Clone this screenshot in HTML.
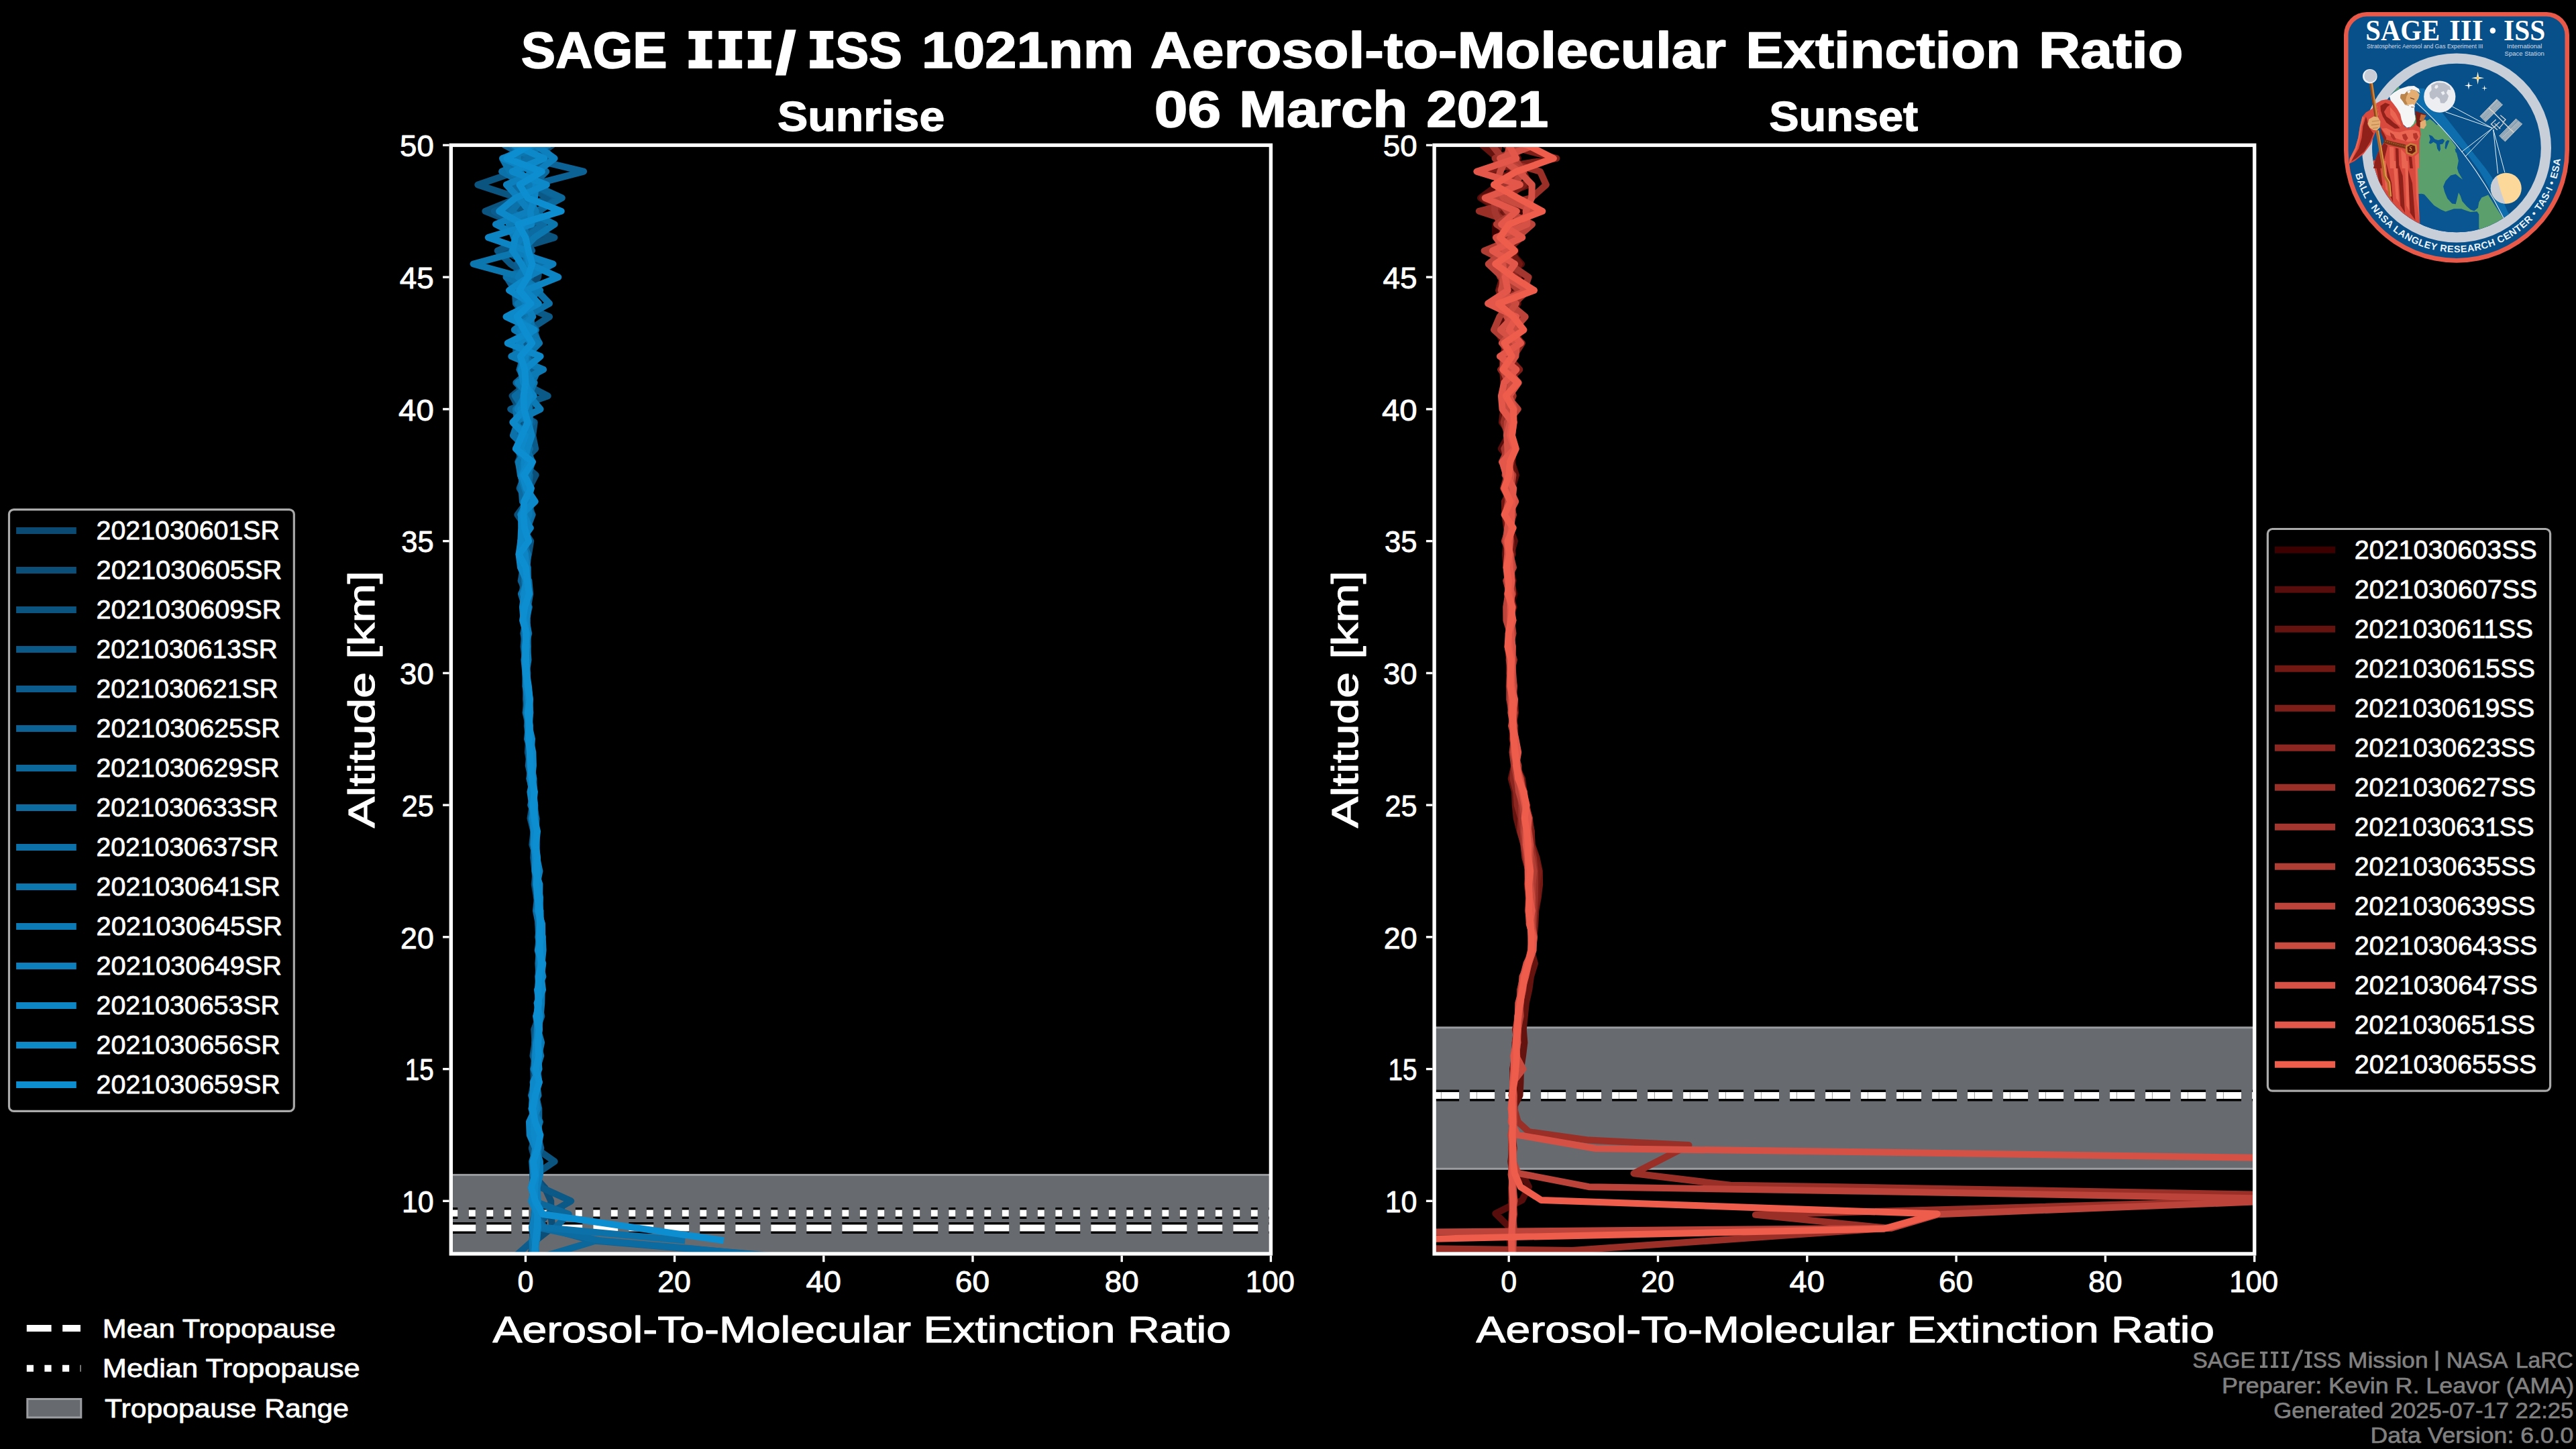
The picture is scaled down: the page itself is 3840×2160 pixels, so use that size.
<!DOCTYPE html>
<html><head><meta charset="utf-8"><title>SAGE III/ISS 1021nm Aerosol-to-Molecular Extinction Ratio</title>
<style>html,body{margin:0;padding:0;background:#000;overflow:hidden}svg{display:block}text{white-space:pre}</style></head><body>
<svg width="3840" height="2160" viewBox="0 0 3840 2160">
<rect width="3840" height="2160" fill="#000"/>
<defs>
<clipPath id="cl"><rect x="672.3" y="216.4" width="1222.1000000000001" height="1652.6"/></clipPath>
<clipPath id="cr"><rect x="2138.1" y="216.4" width="1222.6" height="1652.6"/></clipPath>
</defs>
<text x="776.67" y="101.1" font-family="Liberation Sans" font-size="75.84" font-weight="bold" fill="#fff" textLength="218.04" lengthAdjust="spacingAndGlyphs" stroke="#fff" stroke-width="1.6" stroke-linejoin="round">SAGE</text>
<text x="1245.13" y="101.1" font-family="Liberation Sans" font-size="75.84" font-weight="bold" fill="#fff" textLength="99.82" lengthAdjust="spacingAndGlyphs" stroke="#fff" stroke-width="1.6" stroke-linejoin="round">SS</text>
<text x="1373.82" y="101.1" font-family="Liberation Sans" font-size="75.84" font-weight="bold" fill="#fff" textLength="316.44" lengthAdjust="spacingAndGlyphs" stroke="#fff" stroke-width="1.6" stroke-linejoin="round">1021nm</text>
<text x="1714.87" y="101.1" font-family="Liberation Sans" font-size="75.84" font-weight="bold" fill="#fff" textLength="858.01" lengthAdjust="spacingAndGlyphs" stroke="#fff" stroke-width="1.6" stroke-linejoin="round">Aerosol-to-Molecular</text>
<text x="2602.31" y="101.1" font-family="Liberation Sans" font-size="75.84" font-weight="bold" fill="#fff" textLength="409.41" lengthAdjust="spacingAndGlyphs" stroke="#fff" stroke-width="1.6" stroke-linejoin="round">Extinction</text>
<text x="3039.02" y="101.1" font-family="Liberation Sans" font-size="75.84" font-weight="bold" fill="#fff" textLength="215.42" lengthAdjust="spacingAndGlyphs" stroke="#fff" stroke-width="1.6" stroke-linejoin="round">Ratio</text>
<path d="M1026.5 46.0h35v12.3h-10v31.3h10v12.3h-35v-12.3h10v-31.3h-10z" fill="#fff"/>
<path d="M1071.2 46.0h35v12.3h-10v31.3h10v12.3h-35v-12.3h10v-31.3h-10z" fill="#fff"/>
<path d="M1114.8 46.0h35v12.3h-10v31.3h10v12.3h-35v-12.3h10v-31.3h-10z" fill="#fff"/>
<path d="M1207.2 46.0h35v12.3h-10v31.3h10v12.3h-35v-12.3h10v-31.3h-10z" fill="#fff"/>
<path d="M1155.8 112.4h15.6l15.3 -68.2h-15.6z" fill="#fff"/>
<text x="1720.66" y="188.8" font-family="Liberation Sans" font-size="75.84" font-weight="bold" fill="#fff" textLength="99.50" lengthAdjust="spacingAndGlyphs" stroke="#fff" stroke-width="1.6" stroke-linejoin="round">06</text>
<text x="1847.08" y="188.8" font-family="Liberation Sans" font-size="75.84" font-weight="bold" fill="#fff" textLength="251.18" lengthAdjust="spacingAndGlyphs" stroke="#fff" stroke-width="1.6" stroke-linejoin="round">March</text>
<text x="2126.34" y="188.8" font-family="Liberation Sans" font-size="75.84" font-weight="bold" fill="#fff" textLength="181.82" lengthAdjust="spacingAndGlyphs" stroke="#fff" stroke-width="1.6" stroke-linejoin="round">2021</text>
<text x="1158.97" y="195.0" font-family="Liberation Sans" font-size="63.13" font-weight="bold" fill="#fff" textLength="249.24" lengthAdjust="spacingAndGlyphs" stroke="#fff" stroke-width="1.3" stroke-linejoin="round">Sunrise</text>
<text x="2637.20" y="195.0" font-family="Liberation Sans" font-size="63.13" font-weight="bold" fill="#fff" textLength="221.98" lengthAdjust="spacingAndGlyphs" stroke="#fff" stroke-width="1.3" stroke-linejoin="round">Sunset</text>
<rect x="672.3" y="1751.4" width="1222.1" height="157.0" fill="#676a6f" clip-path="url(#cl)"/>
<g clip-path="url(#cl)" stroke="#9b9da0" stroke-width="3" fill="none">
<rect x="667.3" y="1751.4" width="1232.1" height="157.0"/>
</g>
<g clip-path="url(#cl)" fill="none" stroke-dasharray="10 16.5">
<path d="M672.3 1808.6H1894.4" stroke="#000" stroke-width="17"/>
<path d="M672.3 1808.6H1894.4" stroke="#fff" stroke-width="10"/>
</g>
<g clip-path="url(#cl)" fill="none" stroke-dasharray="37 16">
<path d="M672.3 1830.6H1894.4" stroke="#000" stroke-width="17"/>
<path d="M672.3 1830.6H1894.4" stroke="#fff" stroke-width="10"/>
</g>
<g clip-path="url(#cl)" fill="none" stroke-linejoin="round" stroke-linecap="butt">
<path d="M804.3 177.1L775.1 196.7L822.9 216.4L795.2 236.1L807.5 255.7L799.3 275.4L796.0 295.1L775.0 314.8L801.4 334.4L793.7 354.1L784.6 373.8L805.1 393.5L802.1 413.1L789.9 432.8L800.0 452.5L778.4 472.2L780.5 491.8L781.7 511.5L780.9 531.2L781.9 550.9L785.5 570.5L794.7 590.2L789.6 609.9L790.1 629.5L772.8 649.2L780.7 668.9L772.1 688.6L779.2 708.2L790.7 727.9L788.5 747.6L784.4 767.3L785.7 786.9L781.9 806.6L777.8 826.3L780.1 846.0L780.9 865.6L778.5 885.3L783.0 905.0L779.2 924.7L785.1 944.3L783.5 964.0L785.2 983.7L785.3 1003.4L786.5 1023.0L786.4 1042.7L787.0 1062.4L785.8 1082.0L788.3 1101.7L786.7 1121.4L791.2 1141.1L793.8 1160.7L794.0 1180.4L795.2 1200.1L796.8 1219.8L798.1 1239.4L796.1 1259.1L798.8 1278.8L798.8 1298.5L796.7 1318.1L800.0 1337.8L803.2 1357.5L801.9 1377.2L803.3 1396.8L806.1 1416.5L803.8 1436.2L802.2 1455.8L804.0 1475.5L803.0 1495.2L801.1 1514.9L799.8 1534.5L799.8 1554.2L797.1 1573.9L795.1 1593.6L795.8 1613.2L792.1 1632.9L798.7 1652.6L799.5 1672.3L794.5 1691.9L800.6 1711.6L796.2 1731.3L794.2 1751.0L794.6 1770.6L797.4 1790.3L799.2 1810.0L796.3 1829.7L793.4 1849.3L799.1 1869.0" stroke="#0b4a72" stroke-width="10.0"/>
<path d="M769.0 177.1L755.1 196.7L791.6 216.4L813.8 236.1L754.9 255.7L794.7 275.4L769.4 295.1L765.6 314.8L792.9 334.4L820.2 354.1L751.6 373.8L789.6 393.5L791.3 413.1L784.5 432.8L792.4 452.5L768.9 472.2L784.6 491.8L783.3 511.5L784.2 531.2L775.7 550.9L787.6 570.5L763.6 590.2L774.5 609.9L779.6 629.5L773.9 649.2L774.3 668.9L775.3 688.6L798.6 708.2L788.4 727.9L785.9 747.6L771.4 767.3L785.0 786.9L778.6 806.6L781.8 826.3L784.8 846.0L782.9 865.6L783.0 885.3L785.6 905.0L784.7 924.7L785.1 944.3L785.6 964.0L784.4 983.7L784.5 1003.4L785.0 1023.0L786.1 1042.7L786.3 1062.4L787.7 1082.0L790.0 1101.7L787.4 1121.4L791.4 1141.1L793.0 1160.7L791.8 1180.4L796.0 1200.1L798.3 1219.8L799.2 1239.4L799.6 1259.1L798.0 1278.8L798.3 1298.5L800.4 1318.1L802.9 1337.8L803.7 1357.5L803.3 1377.2L808.6 1396.8L804.5 1416.5L804.1 1436.2L805.8 1455.8L801.7 1475.5L803.9 1495.2L803.9 1514.9L803.9 1534.5L800.8 1554.2L804.9 1573.9L798.2 1593.6L797.4 1613.2L794.9 1632.9L795.2 1652.6L798.6 1672.3L797.8 1691.9L792.8 1711.6L798.1 1731.3L794.4 1751.0L812.3 1770.6L821.2 1790.3L821.2 1810.0L823.4 1829.7L798.4 1849.3L791.2 1869.0L796.0 1888.7" stroke="#0b4f79" stroke-width="10.0"/>
<path d="M765.9 177.1L779.1 196.7L787.0 216.4L800.7 236.1L770.1 255.7L712.3 275.4L772.3 295.1L723.4 314.8L772.3 334.4L826.5 354.1L761.6 373.8L799.1 393.5L779.3 413.1L785.2 432.8L792.1 452.5L785.8 472.2L789.4 491.8L769.1 511.5L769.4 531.2L789.0 550.9L774.7 570.5L774.2 590.2L770.3 609.9L794.4 629.5L789.7 649.2L795.5 668.9L775.9 688.6L783.4 708.2L775.4 727.9L788.4 747.6L792.9 767.3L778.5 786.9L791.2 806.6L788.0 826.3L782.9 846.0L776.6 865.6L788.3 885.3L783.7 905.0L782.7 924.7L785.0 944.3L785.0 964.0L786.5 983.7L783.4 1003.4L786.2 1023.0L787.7 1042.7L788.8 1062.4L787.3 1082.0L787.2 1101.7L791.3 1121.4L790.9 1141.1L792.2 1160.7L796.2 1180.4L793.8 1200.1L790.5 1219.8L795.5 1239.4L793.3 1259.1L800.0 1278.8L800.0 1298.5L799.2 1318.1L801.5 1337.8L804.4 1357.5L804.0 1377.2L807.6 1396.8L804.3 1416.5L806.1 1436.2L806.6 1455.8L806.5 1475.5L800.6 1495.2L803.8 1514.9L796.2 1534.5L797.5 1554.2L794.4 1573.9L802.0 1593.6L794.5 1613.2L797.6 1632.9L796.2 1652.6L796.7 1672.3L794.8 1691.9L798.5 1711.6L826.7 1731.3L797.6 1751.0L799.1 1770.6L800.4 1790.3L796.4 1810.0L793.0 1829.7L795.0 1849.3" stroke="#0b547f" stroke-width="10.0"/>
<path d="M807.2 177.1L784.8 196.7L772.1 216.4L766.8 236.1L776.5 255.7L776.4 275.4L820.6 295.1L755.6 314.8L781.8 334.4L785.9 354.1L741.7 373.8L761.1 393.5L790.9 413.1L766.8 432.8L772.3 452.5L819.0 472.2L789.0 491.8L773.0 511.5L781.2 531.2L796.7 550.9L778.3 570.5L816.7 590.2L761.2 609.9L796.7 629.5L794.2 649.2L798.2 668.9L778.1 688.6L785.9 708.2L786.1 727.9L781.0 747.6L784.2 767.3L783.5 786.9L785.3 806.6L779.7 826.3L777.4 846.0L785.4 865.6L782.7 885.3L783.1 905.0L780.9 924.7L786.7 944.3L787.0 964.0L785.4 983.7L784.4 1003.4L786.1 1023.0L785.4 1042.7L783.5 1062.4L788.1 1082.0L789.1 1101.7L788.6 1121.4L788.6 1141.1L793.1 1160.7L792.5 1180.4L795.8 1200.1L794.0 1219.8L799.6 1239.4L800.1 1259.1L798.7 1278.8L799.1 1298.5L800.7 1318.1L800.3 1337.8L805.3 1357.5L803.2 1377.2L805.0 1396.8L808.2 1416.5L803.6 1436.2L804.5 1455.8L802.7 1475.5L802.2 1495.2L802.5 1514.9L801.5 1534.5L798.4 1554.2L801.8 1573.9L801.3 1593.6L803.4 1613.2L794.3 1632.9L796.9 1652.6L799.4 1672.3L801.9 1691.9L795.3 1711.6L797.3 1731.3L796.2 1751.0L807.8 1770.6L851.2 1790.3L816.7 1810.0L797.5 1829.7L800.7 1849.3" stroke="#0b5986" stroke-width="10.0"/>
<path d="M770.1 177.1L821.6 196.7L805.1 216.4L823.9 236.1L801.0 255.7L763.3 275.4L788.7 295.1L736.8 314.8L767.7 334.4L782.0 354.1L793.1 373.8L770.8 393.5L781.5 413.1L789.8 432.8L788.1 452.5L790.4 472.2L785.4 491.8L780.4 511.5L790.7 531.2L783.9 550.9L775.9 570.5L777.8 590.2L783.4 609.9L782.5 629.5L784.7 649.2L783.4 668.9L784.8 688.6L782.4 708.2L774.6 727.9L786.1 747.6L789.7 767.3L785.8 786.9L782.5 806.6L785.5 826.3L779.7 846.0L776.9 865.6L784.0 885.3L781.5 905.0L785.7 924.7L782.1 944.3L780.6 964.0L783.0 983.7L786.3 1003.4L784.6 1023.0L784.1 1042.7L785.7 1062.4L788.7 1082.0L789.6 1101.7L790.0 1121.4L793.8 1141.1L793.6 1160.7L793.4 1180.4L796.0 1200.1L799.3 1219.8L798.7 1239.4L799.8 1259.1L796.2 1278.8L799.2 1298.5L802.2 1318.1L801.2 1337.8L805.1 1357.5L805.3 1377.2L807.0 1396.8L804.2 1416.5L808.9 1436.2L806.3 1455.8L802.5 1475.5L802.7 1495.2L807.3 1514.9L800.4 1534.5L802.9 1554.2L802.6 1573.9L799.4 1593.6L794.9 1613.2L798.6 1632.9L798.6 1652.6L801.9 1672.3L800.6 1691.9L797.9 1711.6L800.9 1731.3L799.6 1751.0L798.3 1770.6L797.6 1790.3L796.5 1810.0L799.2 1829.7L794.5 1849.3L765.6 1874.9" stroke="#0c5d8d" stroke-width="10.0"/>
<path d="M768.0 177.1L762.6 196.7L752.4 216.4L789.0 236.1L870.1 255.7L794.5 275.4L831.8 295.1L803.3 314.8L809.7 334.4L779.5 354.1L778.8 373.8L801.9 393.5L755.2 413.1L767.7 432.8L768.9 452.5L785.7 472.2L778.6 491.8L772.4 511.5L781.8 531.2L791.8 550.9L769.3 570.5L788.9 590.2L773.0 609.9L793.7 629.5L775.4 649.2L781.3 668.9L778.0 688.6L787.3 708.2L784.1 727.9L781.4 747.6L785.6 767.3L787.0 786.9L777.9 806.6L779.1 826.3L779.5 846.0L782.0 865.6L780.5 885.3L788.8 905.0L784.1 924.7L784.2 944.3L782.3 964.0L782.4 983.7L784.2 1003.4L787.0 1023.0L787.0 1042.7L787.0 1062.4L788.6 1082.0L788.6 1101.7L792.8 1121.4L791.9 1141.1L795.5 1160.7L796.0 1180.4L794.4 1200.1L793.9 1219.8L798.4 1239.4L796.2 1259.1L795.3 1278.8L797.4 1298.5L798.8 1318.1L803.0 1337.8L803.6 1357.5L804.1 1377.2L808.6 1396.8L803.9 1416.5L806.9 1436.2L804.5 1455.8L803.2 1475.5L802.2 1495.2L805.7 1514.9L800.0 1534.5L797.1 1554.2L799.3 1573.9L802.7 1593.6L795.3 1613.2L798.9 1632.9L803.3 1652.6L803.3 1672.3L801.1 1691.9L806.3 1711.6L798.7 1731.3L797.6 1751.0L791.9 1770.6L799.1 1790.3L800.7 1810.0L811.2 1829.7L883.4 1849.3L1161.1 1872.9" stroke="#0c6294" stroke-width="10.0"/>
<path d="M743.5 177.1L815.9 196.7L790.7 216.4L778.9 236.1L814.2 255.7L794.5 275.4L837.8 295.1L800.1 314.8L759.9 334.4L766.3 354.1L781.5 373.8L791.6 393.5L771.3 413.1L795.6 432.8L792.2 452.5L775.7 472.2L795.9 491.8L802.7 511.5L779.5 531.2L774.9 550.9L782.1 570.5L774.2 590.2L780.2 609.9L786.5 629.5L779.7 649.2L789.8 668.9L779.2 688.6L789.8 708.2L787.7 727.9L781.8 747.6L793.2 767.3L784.1 786.9L783.4 806.6L785.2 826.3L777.3 846.0L788.4 865.6L790.2 885.3L786.8 905.0L784.2 924.7L780.4 944.3L784.2 964.0L784.8 983.7L783.7 1003.4L783.8 1023.0L788.4 1042.7L790.4 1062.4L786.8 1082.0L789.6 1101.7L790.4 1121.4L787.8 1141.1L792.0 1160.7L793.9 1180.4L795.1 1200.1L793.7 1219.8L798.8 1239.4L795.9 1259.1L799.0 1278.8L800.7 1298.5L802.9 1318.1L801.2 1337.8L802.4 1357.5L803.6 1377.2L807.1 1396.8L803.2 1416.5L806.7 1436.2L802.3 1455.8L804.4 1475.5L804.9 1495.2L801.8 1514.9L803.4 1534.5L800.6 1554.2L796.3 1573.9L797.9 1593.6L800.2 1613.2L793.0 1632.9L798.0 1652.6L801.8 1672.3L801.7 1691.9L802.1 1711.6L800.1 1731.3L799.6 1751.0L794.0 1770.6L795.0 1790.3L847.8 1810.0L827.8 1829.7L888.9 1849.3L811.2 1872.9" stroke="#0c679a" stroke-width="10.0"/>
<path d="M788.5 177.1L756.6 196.7L795.2 216.4L783.2 236.1L796.7 255.7L764.4 275.4L776.2 295.1L756.7 314.8L810.6 334.4L784.3 354.1L786.9 373.8L794.9 393.5L772.3 413.1L783.2 432.8L774.9 452.5L781.1 472.2L799.0 491.8L771.2 511.5L783.5 531.2L774.5 550.9L794.0 570.5L767.8 590.2L780.5 609.9L785.6 629.5L780.4 649.2L789.9 668.9L778.6 688.6L778.5 708.2L777.5 727.9L778.9 747.6L793.6 767.3L786.2 786.9L782.9 806.6L776.6 826.3L786.8 846.0L786.9 865.6L776.9 885.3L782.9 905.0L784.1 924.7L788.2 944.3L782.7 964.0L782.9 983.7L784.3 1003.4L783.4 1023.0L787.1 1042.7L787.4 1062.4L789.1 1082.0L790.0 1101.7L789.9 1121.4L792.7 1141.1L789.7 1160.7L796.4 1180.4L791.2 1200.1L799.3 1219.8L798.9 1239.4L799.1 1259.1L798.9 1278.8L799.4 1298.5L800.8 1318.1L801.1 1337.8L798.9 1357.5L802.8 1377.2L803.9 1396.8L801.8 1416.5L805.9 1436.2L805.5 1455.8L804.5 1475.5L804.3 1495.2L801.7 1514.9L801.3 1534.5L805.6 1554.2L803.7 1573.9L799.8 1593.6L801.5 1613.2L798.2 1632.9L794.6 1652.6L804.9 1672.3L798.1 1691.9L802.9 1711.6L797.5 1731.3L797.9 1751.0L794.0 1770.6L800.3 1790.3L799.6 1810.0L801.2 1829.7L894.5 1849.3L1027.8 1861.1L1227.8 1880.8" stroke="#0c6ca1" stroke-width="10.0"/>
<path d="M796.9 177.1L790.6 196.7L763.1 216.4L792.7 236.1L748.1 255.7L784.4 275.4L778.8 295.1L763.1 314.8L781.2 334.4L784.6 354.1L773.7 373.8L815.4 393.5L754.5 413.1L800.1 432.8L819.0 452.5L783.4 472.2L787.0 491.8L793.2 511.5L781.6 531.2L802.5 550.9L793.2 570.5L791.3 590.2L768.8 609.9L771.6 629.5L764.9 649.2L785.1 668.9L793.5 688.6L786.9 708.2L785.5 727.9L782.4 747.6L791.4 767.3L784.5 786.9L776.6 806.6L787.1 826.3L785.4 846.0L787.3 865.6L783.2 885.3L781.7 905.0L784.8 924.7L784.7 944.3L784.8 964.0L785.2 983.7L783.7 1003.4L784.3 1023.0L785.3 1042.7L787.7 1062.4L787.9 1082.0L786.0 1101.7L792.2 1121.4L791.2 1141.1L793.3 1160.7L794.5 1180.4L797.2 1200.1L797.3 1219.8L799.2 1239.4L796.3 1259.1L799.2 1278.8L798.0 1298.5L801.4 1318.1L800.6 1337.8L803.8 1357.5L803.8 1377.2L805.4 1396.8L803.9 1416.5L802.4 1436.2L803.5 1455.8L801.9 1475.5L806.5 1495.2L799.0 1514.9L802.4 1534.5L801.2 1554.2L804.3 1573.9L797.6 1593.6L800.9 1613.2L792.3 1632.9L799.3 1652.6L800.2 1672.3L799.0 1691.9L803.1 1711.6L800.3 1731.3L796.3 1751.0L800.4 1770.6L798.9 1790.3L797.5 1810.0L809.0 1829.7L1021.2 1849.3" stroke="#0c71a8" stroke-width="10.0"/>
<path d="M747.2 177.1L771.8 196.7L817.4 216.4L748.9 236.1L759.8 255.7L790.6 275.4L780.2 295.1L787.7 314.8L826.7 334.4L796.7 354.1L777.8 373.8L705.6 393.5L777.8 413.1L805.2 432.8L771.6 452.5L792.0 472.2L791.6 491.8L804.0 511.5L784.6 531.2L778.8 550.9L796.6 570.5L787.2 590.2L788.7 609.9L789.6 629.5L776.2 649.2L785.7 668.9L772.9 688.6L775.9 708.2L782.9 727.9L787.0 747.6L788.6 767.3L779.7 786.9L778.8 806.6L780.9 826.3L783.0 846.0L782.2 865.6L784.5 885.3L787.3 905.0L785.4 924.7L784.7 944.3L786.0 964.0L787.5 983.7L784.3 1003.4L786.0 1023.0L787.3 1042.7L784.5 1062.4L789.3 1082.0L789.6 1101.7L792.7 1121.4L792.1 1141.1L789.4 1160.7L794.4 1180.4L793.5 1200.1L796.0 1219.8L799.0 1239.4L798.2 1259.1L800.9 1278.8L799.0 1298.5L801.9 1318.1L802.6 1337.8L805.3 1357.5L805.8 1377.2L805.2 1396.8L806.8 1416.5L805.4 1436.2L804.3 1455.8L806.5 1475.5L802.5 1495.2L801.6 1514.9L801.2 1534.5L801.4 1554.2L806.2 1573.9L800.2 1593.6L799.7 1613.2L802.4 1632.9L792.3 1652.6L803.9 1672.3L798.3 1691.9L799.7 1711.6L793.2 1731.3L794.7 1751.0L798.7 1770.6L799.3 1790.3L796.0 1810.0L797.6 1829.7L793.4 1849.3L794.3 1869.0" stroke="#0c76ae" stroke-width="10.0"/>
<path d="M806.9 177.1L801.6 196.7L771.0 216.4L771.8 236.1L774.3 255.7L791.9 275.4L787.8 295.1L798.7 314.8L758.9 334.4L766.4 354.1L784.1 373.8L785.8 393.5L772.5 413.1L801.9 432.8L787.7 452.5L792.1 472.2L766.7 491.8L800.1 511.5L762.3 531.2L810.1 550.9L772.3 570.5L788.8 590.2L805.6 609.9L765.6 629.5L787.6 649.2L786.1 668.9L780.6 688.6L776.1 708.2L782.2 727.9L788.9 747.6L788.4 767.3L782.0 786.9L779.1 806.6L781.8 826.3L776.6 846.0L787.3 865.6L786.8 885.3L783.9 905.0L785.2 924.7L787.1 944.3L784.3 964.0L784.5 983.7L785.5 1003.4L785.1 1023.0L787.4 1042.7L786.3 1062.4L790.0 1082.0L788.2 1101.7L790.6 1121.4L792.0 1141.1L790.2 1160.7L793.2 1180.4L796.3 1200.1L795.9 1219.8L795.9 1239.4L796.9 1259.1L798.1 1278.8L800.3 1298.5L801.0 1318.1L805.1 1337.8L804.6 1357.5L804.5 1377.2L802.4 1396.8L805.7 1416.5L806.3 1436.2L804.0 1455.8L807.7 1475.5L807.3 1495.2L805.5 1514.9L801.6 1534.5L807.1 1554.2L802.8 1573.9L795.5 1593.6L803.8 1613.2L793.9 1632.9L793.0 1652.6L801.9 1672.3L804.2 1691.9L799.3 1711.6L802.3 1731.3L802.1 1751.0L793.4 1770.6L799.2 1790.3L800.1 1810.0L794.9 1829.7L799.8 1849.3L796.4 1869.0L798.3 1888.7" stroke="#0c7bb5" stroke-width="10.0"/>
<path d="M824.1 177.1L774.8 196.7L799.3 216.4L826.6 236.1L801.2 255.7L754.9 275.4L773.2 295.1L789.0 314.8L739.0 334.4L777.8 354.1L763.4 373.8L824.5 393.5L785.6 413.1L773.8 432.8L783.5 452.5L794.2 472.2L775.9 491.8L791.6 511.5L783.7 531.2L784.1 550.9L793.5 570.5L782.5 590.2L771.7 609.9L787.3 629.5L790.1 649.2L769.2 668.9L786.4 688.6L776.4 708.2L789.4 727.9L785.9 747.6L776.2 767.3L790.8 786.9L776.1 806.6L783.3 826.3L785.7 846.0L784.2 865.6L786.3 885.3L782.9 905.0L783.9 924.7L783.4 944.3L784.3 964.0L781.5 983.7L783.4 1003.4L784.2 1023.0L787.4 1042.7L787.9 1062.4L786.9 1082.0L787.9 1101.7L791.4 1121.4L792.5 1141.1L794.4 1160.7L793.2 1180.4L797.1 1200.1L792.9 1219.8L796.2 1239.4L795.3 1259.1L800.2 1278.8L804.4 1298.5L800.4 1318.1L801.8 1337.8L802.6 1357.5L807.5 1377.2L808.0 1396.8L804.3 1416.5L804.9 1436.2L809.4 1455.8L800.9 1475.5L803.8 1495.2L801.5 1514.9L800.9 1534.5L800.3 1554.2L802.2 1573.9L797.0 1593.6L802.1 1613.2L798.3 1632.9L801.5 1652.6L792.7 1672.3L803.4 1691.9L798.2 1711.6L804.9 1731.3L805.0 1751.0L800.5 1770.6L801.8 1790.3L797.5 1810.0L793.4 1829.7L797.2 1849.3L799.4 1869.0L796.1 1888.7" stroke="#0d7fbc" stroke-width="10.0"/>
<path d="M780.8 177.1L716.7 196.7L794.5 216.4L750.1 236.1L795.0 255.7L798.8 275.4L796.9 295.1L790.6 314.8L792.3 334.4L727.8 354.1L785.6 373.8L789.0 393.5L832.3 413.1L783.4 432.8L802.9 452.5L765.1 472.2L795.6 491.8L774.1 511.5L783.3 531.2L776.9 550.9L780.2 570.5L795.6 590.2L776.0 609.9L787.5 629.5L792.7 649.2L786.2 668.9L781.5 688.6L781.9 708.2L791.9 727.9L786.2 747.6L781.0 767.3L789.7 786.9L778.4 806.6L782.5 826.3L782.9 846.0L785.6 865.6L779.9 885.3L787.7 905.0L784.3 924.7L784.5 944.3L785.1 964.0L782.3 983.7L784.1 1003.4L786.2 1023.0L788.3 1042.7L789.7 1062.4L788.5 1082.0L793.0 1101.7L791.4 1121.4L791.8 1141.1L795.1 1160.7L790.4 1180.4L793.3 1200.1L795.1 1219.8L795.6 1239.4L797.1 1259.1L798.3 1278.8L800.7 1298.5L802.5 1318.1L802.9 1337.8L805.3 1357.5L805.4 1377.2L808.7 1396.8L809.6 1416.5L807.5 1436.2L806.5 1455.8L803.2 1475.5L802.2 1495.2L800.4 1514.9L803.9 1534.5L799.3 1554.2L798.0 1573.9L797.1 1593.6L801.9 1613.2L797.7 1632.9L798.2 1652.6L788.9 1672.3L789.7 1691.9L798.2 1711.6L795.0 1731.3L795.7 1751.0L797.9 1770.6L792.0 1790.3L801.0 1810.0L802.0 1829.7L800.1 1849.3" stroke="#0d84c3" stroke-width="10.0"/>
<path d="M784.1 177.1L850.1 196.7L766.7 216.4L811.2 236.1L763.6 255.7L814.8 275.4L768.4 295.1L744.1 314.8L779.2 334.4L768.1 354.1L764.2 373.8L777.2 393.5L787.9 413.1L759.0 432.8L792.3 452.5L754.5 472.2L796.7 491.8L756.7 511.5L805.6 531.2L782.3 550.9L783.0 570.5L790.0 590.2L782.6 609.9L764.3 629.5L783.2 649.2L776.1 668.9L788.6 688.6L778.8 708.2L784.4 727.9L797.6 747.6L777.1 767.3L777.2 786.9L776.3 806.6L773.5 826.3L776.0 846.0L785.0 865.6L781.8 885.3L778.9 905.0L780.8 924.7L785.4 944.3L783.0 964.0L783.9 983.7L784.9 1003.4L787.9 1023.0L789.8 1042.7L789.6 1062.4L789.2 1082.0L790.3 1101.7L794.3 1121.4L794.9 1141.1L792.7 1160.7L795.6 1180.4L796.5 1200.1L796.9 1219.8L796.7 1239.4L795.9 1259.1L798.6 1278.8L797.5 1298.5L804.4 1318.1L804.1 1337.8L801.7 1357.5L808.1 1377.2L808.2 1396.8L801.9 1416.5L809.3 1436.2L806.6 1455.8L809.0 1475.5L800.7 1495.2L804.4 1514.9L803.5 1534.5L802.3 1554.2L801.6 1573.9L803.5 1593.6L795.1 1613.2L794.7 1632.9L793.0 1652.6L796.0 1672.3L796.3 1691.9L800.4 1711.6L800.1 1731.3L799.1 1751.0L796.6 1770.6L797.2 1790.3L801.4 1810.0L800.6 1829.7L798.4 1849.3L797.0 1869.0L802.1 1888.7" stroke="#0d89c9" stroke-width="10.0"/>
<path d="M815.8 177.1L827.8 196.7L789.0 216.4L755.6 236.1L807.8 255.7L774.5 275.4L786.7 295.1L836.7 314.8L772.3 334.4L783.4 354.1L787.8 373.8L793.4 393.5L786.7 413.1L774.5 432.8L791.0 452.5L770.8 472.2L781.1 491.8L793.1 511.5L775.8 531.2L782.3 550.9L783.4 570.5L780.4 590.2L781.1 609.9L786.6 629.5L778.1 649.2L768.9 668.9L793.9 688.6L781.3 708.2L791.5 727.9L781.3 747.6L780.3 767.3L781.9 786.9L788.1 806.6L773.7 826.3L783.9 846.0L785.9 865.6L788.8 885.3L782.2 905.0L779.2 924.7L784.5 944.3L783.6 964.0L784.2 983.7L784.3 1003.4L786.9 1023.0L789.9 1042.7L786.8 1062.4L789.1 1082.0L788.2 1101.7L789.9 1121.4L790.7 1141.1L792.8 1160.7L796.9 1180.4L794.7 1200.1L796.6 1219.8L801.0 1239.4L798.6 1259.1L800.9 1278.8L800.5 1298.5L799.4 1318.1L801.4 1337.8L803.9 1357.5L805.1 1377.2L804.4 1396.8L804.8 1416.5L807.0 1436.2L803.1 1455.8L802.4 1475.5L803.1 1495.2L799.6 1514.9L803.5 1534.5L801.9 1554.2L803.3 1573.9L798.7 1593.6L803.8 1613.2L797.9 1632.9L794.2 1652.6L797.7 1672.3L805.5 1691.9L801.6 1711.6L794.9 1731.3L797.6 1751.0L791.8 1770.6L798.0 1790.3L809.0 1810.0L1078.9 1849.3" stroke="#0d8ed0" stroke-width="10.0"/>
</g>
<rect x="2138.1" y="1531.8" width="1222.6" height="210.5" fill="#676a6f" clip-path="url(#cr)"/>
<g clip-path="url(#cr)" stroke="#9b9da0" stroke-width="3" fill="none">
<rect x="2133.1" y="1531.8" width="1232.6" height="210.5"/>
</g>
<g clip-path="url(#cr)" fill="none" stroke-dasharray="37 16">
<path d="M2138.1 1632.9H3360.7" stroke="#000" stroke-width="17"/>
<path d="M2138.1 1632.9H3360.7" stroke="#fff" stroke-width="10"/>
</g>
<path d="M2148.4 1627.9v10M2201.4 1627.9v10M2254.4 1627.9v10M2307.4 1627.9v10M2360.4 1627.9v10M2413.4 1627.9v10M2466.4 1627.9v10M2519.4 1627.9v10M2572.4 1627.9v10M2625.4 1627.9v10M2678.4 1627.9v10M2731.4 1627.9v10M2784.4 1627.9v10M2837.4 1627.9v10M2890.4 1627.9v10M2943.4 1627.9v10M2996.4 1627.9v10M3049.4 1627.9v10M3102.4 1627.9v10M3155.4 1627.9v10M3208.4 1627.9v10M3261.4 1627.9v10M3314.4 1627.9v10M3367.4 1627.9v10" stroke="#9a9a9a" stroke-width="1" fill="none" clip-path="url(#cr)"/>
<g clip-path="url(#cr)" fill="none" stroke-linejoin="round" stroke-linecap="butt">
<path d="M2226.4 177.1L2256.2 196.7L2267.6 216.4L2239.9 236.1L2225.1 255.7L2248.1 275.4L2257.8 295.1L2268.8 314.8L2229.0 334.4L2229.1 354.1L2259.4 373.8L2255.8 393.5L2269.7 413.1L2261.8 432.8L2248.0 452.5L2246.2 472.2L2271.3 491.8L2246.7 511.5L2243.1 531.2L2240.9 550.9L2249.9 570.5L2250.2 590.2L2247.1 609.9L2248.9 629.5L2250.9 649.2L2253.1 668.9L2255.0 688.6L2250.5 708.2L2241.4 727.9L2252.7 747.6L2243.9 767.3L2249.1 786.9L2244.4 806.6L2250.1 826.3L2247.7 846.0L2251.3 865.6L2257.7 885.3L2251.0 905.0L2253.8 924.7L2248.4 944.3L2251.4 964.0L2253.7 983.7L2252.4 1003.4L2254.1 1023.0L2254.4 1042.7L2253.2 1062.4L2256.7 1082.0L2256.2 1101.7L2262.7 1121.4L2260.8 1141.1L2266.8 1160.7L2270.3 1180.4L2276.4 1200.1L2274.5 1219.8L2277.6 1239.4L2276.6 1259.1L2280.1 1278.8L2280.7 1298.5L2280.2 1318.1L2279.0 1337.8L2282.2 1357.5L2283.6 1377.2L2287.1 1396.8L2283.2 1416.5L2278.4 1436.2L2272.3 1455.8L2268.4 1475.5L2266.2 1495.2L2264.1 1514.9L2261.0 1534.5L2258.9 1554.2L2258.1 1573.9L2257.8 1593.6L2258.1 1613.2L2256.6 1632.9L2256.5 1652.6L2256.0 1672.3L2255.8 1691.9L2255.0 1711.6L2255.7 1731.3L2256.9 1751.0L2254.4 1770.6L2254.0 1790.3L2257.1 1810.0L2255.1 1829.7L2255.9 1849.3L2255.8 1869.0L2253.5 1888.7" stroke="#3c0000" stroke-width="10.0"/>
<path d="M2290.3 177.1L2282.1 196.7L2252.5 216.4L2263.0 236.1L2251.5 255.7L2233.3 275.4L2207.0 295.1L2238.1 314.8L2267.8 334.4L2260.3 354.1L2250.1 373.8L2268.1 393.5L2239.1 413.1L2259.4 432.8L2262.8 452.5L2246.0 472.2L2231.3 491.8L2241.2 511.5L2251.1 531.2L2253.1 550.9L2260.0 570.5L2242.7 590.2L2249.3 609.9L2253.1 629.5L2248.5 649.2L2237.8 668.9L2253.5 688.6L2260.0 708.2L2254.2 727.9L2245.7 747.6L2248.0 767.3L2250.6 786.9L2257.9 806.6L2252.3 826.3L2250.7 846.0L2255.7 865.6L2250.7 885.3L2256.6 905.0L2249.6 924.7L2250.5 944.3L2253.7 964.0L2255.3 983.7L2253.8 1003.4L2253.9 1023.0L2250.9 1042.7L2253.7 1062.4L2254.7 1082.0L2256.6 1101.7L2260.5 1121.4L2260.9 1141.1L2266.6 1160.7L2269.9 1180.4L2273.7 1200.1L2275.0 1219.8L2276.2 1239.4L2277.5 1259.1L2277.0 1278.8L2278.9 1298.5L2277.5 1318.1L2282.0 1337.8L2282.8 1357.5L2282.6 1377.2L2284.2 1396.8L2282.1 1416.5L2277.9 1436.2L2271.9 1455.8L2270.8 1475.5L2266.2 1495.2L2262.8 1514.9L2259.0 1534.5L2262.0 1554.2L2258.9 1573.9L2255.0 1593.6L2256.4 1613.2L2253.4 1632.9L2257.9 1652.6L2256.4 1672.3L2255.6 1691.9L2254.6 1711.6L2252.3 1731.3L2254.7 1751.0L2274.0 1759.3L2279.0 1769.2L2269.1 1789.1L2229.3 1808.9L2249.2 1828.8L2251.7 1858.6" stroke="#560d0b" stroke-width="10.0"/>
<path d="M2220.3 177.1L2260.3 196.7L2209.9 216.4L2232.7 236.1L2271.4 255.7L2278.9 275.4L2228.1 295.1L2222.0 314.8L2263.9 334.4L2262.5 354.1L2235.0 373.8L2239.6 393.5L2240.0 413.1L2234.0 432.8L2240.9 452.5L2263.1 472.2L2256.1 491.8L2267.5 511.5L2248.6 531.2L2248.2 550.9L2242.4 570.5L2248.4 590.2L2241.2 609.9L2238.9 629.5L2253.2 649.2L2257.0 668.9L2253.7 688.6L2255.9 708.2L2250.7 727.9L2246.5 747.6L2250.0 767.3L2248.3 786.9L2245.7 806.6L2244.1 826.3L2245.4 846.0L2250.6 865.6L2251.4 885.3L2249.8 905.0L2255.4 924.7L2252.2 944.3L2253.4 964.0L2254.9 983.7L2251.0 1003.4L2249.7 1023.0L2255.5 1042.7L2253.7 1062.4L2257.8 1082.0L2257.2 1101.7L2258.7 1121.4L2257.4 1141.1L2252.7 1160.7L2258.0 1180.4L2258.7 1200.1L2260.7 1219.8L2265.6 1239.4L2272.1 1259.1L2276.6 1278.8L2279.8 1298.5L2276.8 1318.1L2278.8 1337.8L2277.8 1357.5L2282.7 1377.2L2285.6 1396.8L2282.7 1416.5L2288.0 1436.2L2282.0 1455.8L2279.3 1475.5L2274.9 1495.2L2272.8 1514.9L2270.8 1534.5L2272.4 1554.2L2270.0 1573.9L2266.9 1593.6L2266.5 1613.2L2265.5 1632.9L2255.5 1652.6L2254.8 1672.3L2254.5 1691.9L2253.3 1711.6L2254.0 1731.3L2256.7 1751.0L2255.4 1770.6L2254.9 1790.3L2254.6 1810.0L2254.9 1829.7L2255.2 1849.3L2254.1 1869.0L2255.0 1888.7" stroke="#64130f" stroke-width="10.0"/>
<path d="M2253.7 177.1L2235.4 196.7L2234.7 216.4L2231.0 236.1L2229.9 255.7L2265.3 275.4L2209.9 295.1L2244.5 314.8L2239.1 334.4L2239.6 354.1L2250.7 373.8L2264.9 393.5L2250.3 413.1L2247.5 432.8L2241.8 452.5L2247.8 472.2L2258.4 491.8L2245.7 511.5L2240.3 531.2L2239.9 550.9L2241.6 570.5L2240.2 590.2L2256.0 609.9L2251.4 629.5L2248.0 649.2L2257.1 668.9L2246.2 688.6L2253.1 708.2L2253.2 727.9L2242.9 747.6L2243.3 767.3L2246.1 786.9L2253.1 806.6L2254.6 826.3L2246.2 846.0L2254.0 865.6L2249.7 885.3L2250.0 905.0L2249.9 924.7L2250.9 944.3L2247.8 964.0L2250.2 983.7L2250.2 1003.4L2254.3 1023.0L2258.0 1042.7L2258.9 1062.4L2255.2 1082.0L2254.6 1101.7L2258.9 1121.4L2260.1 1141.1L2269.0 1160.7L2271.6 1180.4L2275.0 1200.1L2279.8 1219.8L2282.6 1239.4L2283.8 1259.1L2290.6 1278.8L2294.8 1298.5L2295.1 1318.1L2292.8 1337.8L2289.3 1357.5L2288.3 1377.2L2286.6 1396.8L2283.6 1416.5L2280.0 1436.2L2272.2 1455.8L2268.6 1475.5L2263.9 1495.2L2263.6 1514.9L2262.8 1534.5L2258.6 1554.2L2260.0 1573.9L2256.5 1593.6L2256.7 1613.2L2255.2 1632.9L2255.5 1652.6L2256.5 1672.3L2254.5 1691.9L2256.7 1711.6L2253.9 1731.3L2253.7 1751.0L2255.6 1770.6L2253.6 1790.3L2254.4 1810.0L2255.8 1829.7L2256.2 1849.3L2252.8 1869.0L2255.4 1888.7" stroke="#711812" stroke-width="10.0"/>
<path d="M2284.4 177.1L2271.4 196.7L2244.8 216.4L2320.4 236.1L2201.5 255.7L2271.5 275.4L2244.5 295.1L2245.9 314.8L2246.8 334.4L2267.6 354.1L2245.9 373.8L2229.0 393.5L2263.3 413.1L2235.5 432.8L2243.8 452.5L2247.8 472.2L2245.8 491.8L2240.3 511.5L2247.3 531.2L2265.3 550.9L2245.0 570.5L2248.4 590.2L2256.1 609.9L2253.6 629.5L2253.6 649.2L2254.0 668.9L2239.6 688.6L2245.4 708.2L2250.2 727.9L2251.8 747.6L2255.0 767.3L2251.6 786.9L2248.9 806.6L2250.2 826.3L2249.6 846.0L2251.4 865.6L2253.0 885.3L2250.2 905.0L2249.2 924.7L2249.6 944.3L2254.6 964.0L2255.0 983.7L2254.5 1003.4L2255.0 1023.0L2255.7 1042.7L2255.0 1062.4L2256.9 1082.0L2255.8 1101.7L2259.2 1121.4L2260.4 1141.1L2267.0 1160.7L2269.7 1180.4L2275.7 1200.1L2278.5 1219.8L2282.9 1239.4L2283.3 1259.1L2287.7 1278.8L2293.6 1298.5L2290.8 1318.1L2291.0 1337.8L2287.5 1357.5L2287.0 1377.2L2284.5 1396.8L2285.5 1416.5L2277.3 1436.2L2270.6 1455.8L2270.7 1475.5L2266.8 1495.2L2266.6 1514.9L2262.3 1534.5L2259.8 1554.2L2258.8 1573.9L2259.0 1593.6L2256.2 1613.2L2255.9 1632.9L2255.9 1652.6L2254.0 1672.3L2255.1 1691.9L2254.2 1711.6L2253.3 1731.3L2255.8 1751.0L2255.6 1770.6L2254.9 1790.3L2253.8 1810.0L2252.5 1829.7L2255.4 1849.3L2254.7 1869.0L2252.9 1888.7" stroke="#7d1e19" stroke-width="10.0"/>
<path d="M2248.1 177.1L2221.1 196.7L2248.8 216.4L2251.9 236.1L2255.7 255.7L2253.2 275.4L2252.3 295.1L2229.0 314.8L2242.8 334.4L2241.3 354.1L2245.8 373.8L2253.0 393.5L2257.5 413.1L2270.1 432.8L2222.3 452.5L2253.7 472.2L2247.3 491.8L2268.8 511.5L2256.5 531.2L2237.1 550.9L2252.0 570.5L2245.8 590.2L2255.3 609.9L2243.1 629.5L2248.8 649.2L2248.7 668.9L2249.0 688.6L2246.7 708.2L2241.2 727.9L2251.6 747.6L2253.8 767.3L2249.5 786.9L2246.1 806.6L2250.8 826.3L2252.3 846.0L2250.1 865.6L2250.9 885.3L2255.3 905.0L2248.4 924.7L2250.3 944.3L2247.6 964.0L2250.8 983.7L2251.2 1003.4L2251.6 1023.0L2252.9 1042.7L2258.1 1062.4L2255.2 1082.0L2256.6 1101.7L2261.3 1121.4L2257.2 1141.1L2255.4 1160.7L2260.4 1180.4L2261.7 1200.1L2267.4 1219.8L2266.5 1239.4L2271.3 1259.1L2273.4 1278.8L2278.7 1298.5L2277.8 1318.1L2279.6 1337.8L2280.3 1357.5L2282.0 1377.2L2286.1 1396.8L2284.9 1416.5L2277.8 1436.2L2270.5 1455.8L2266.6 1475.5L2266.3 1495.2L2266.6 1514.9L2261.2 1534.5L2259.2 1554.2L2257.7 1573.9L2255.7 1593.6L2255.0 1613.2L2255.1 1632.9L2257.0 1652.6L2255.1 1672.3L2254.3 1691.9L2252.9 1711.6L2255.1 1731.3L2254.8 1751.0L2253.4 1770.6L2253.5 1790.3L2254.8 1810.0L2256.0 1829.7L2255.5 1849.3L2255.0 1869.0L2254.4 1888.7" stroke="#8c2620" stroke-width="10.0"/>
<path d="M2255.2 177.1L2249.0 196.7L2289.2 216.4L2228.5 236.1L2295.9 255.7L2304.8 275.4L2282.6 295.1L2204.8 314.8L2265.9 334.4L2251.5 354.1L2243.9 373.8L2230.1 393.5L2236.3 413.1L2277.4 432.8L2257.1 452.5L2256.0 472.2L2258.8 491.8L2254.3 511.5L2257.2 531.2L2247.3 550.9L2247.7 570.5L2255.7 590.2L2247.1 609.9L2241.5 629.5L2248.1 649.2L2246.5 668.9L2252.5 688.6L2246.1 708.2L2244.7 727.9L2248.2 747.6L2256.1 767.3L2249.6 786.9L2250.4 806.6L2250.1 826.3L2251.4 846.0L2253.6 865.6L2255.2 885.3L2246.4 905.0L2255.3 924.7L2251.7 944.3L2251.3 964.0L2256.9 983.7L2252.3 1003.4L2257.0 1023.0L2255.9 1042.7L2253.1 1062.4L2256.6 1082.0L2258.8 1101.7L2259.4 1121.4L2258.0 1141.1L2265.2 1160.7L2270.2 1180.4L2273.9 1200.1L2280.0 1219.8L2279.2 1239.4L2281.9 1259.1L2285.8 1278.8L2288.0 1298.5L2288.1 1318.1L2287.8 1337.8L2286.8 1357.5L2285.4 1377.2L2286.3 1396.8L2282.5 1416.5L2278.6 1436.2L2270.7 1455.8L2268.3 1475.5L2264.7 1495.2L2263.2 1514.9L2262.1 1534.5L2258.7 1554.2L2261.4 1573.9L2257.0 1593.6L2256.1 1613.2L2254.5 1632.9L2257.2 1652.6L2262.9 1672.3L2279.0 1687.2L2368.4 1699.6L2517.5 1707.1L2435.5 1749.3L2579.6 1766.7L2740.0 1769.2L3386.0 1780.9" stroke="#9a2f28" stroke-width="10.0"/>
<path d="M3410.8 1788.6L2616.9 1810.9L2814.5 1830.8L2343.6 1864.1L2091.4 1860.6" stroke="#9a2f28" stroke-width="10.0"/>
<path d="M2275.1 177.1L2254.8 196.7L2224.1 216.4L2240.0 236.1L2260.4 255.7L2240.0 275.4L2228.0 295.1L2228.1 314.8L2236.4 334.4L2249.5 354.1L2239.9 373.8L2249.5 393.5L2278.6 413.1L2271.9 432.8L2236.6 452.5L2253.1 472.2L2250.1 491.8L2248.0 511.5L2257.4 531.2L2246.8 550.9L2247.0 570.5L2246.8 590.2L2248.6 609.9L2256.8 629.5L2253.7 649.2L2242.3 668.9L2247.3 688.6L2245.7 708.2L2253.3 727.9L2250.6 747.6L2253.3 767.3L2249.5 786.9L2242.8 806.6L2251.7 826.3L2251.1 846.0L2252.3 865.6L2246.9 885.3L2251.4 905.0L2249.6 924.7L2250.0 944.3L2252.8 964.0L2253.0 983.7L2250.9 1003.4L2250.2 1023.0L2250.2 1042.7L2253.9 1062.4L2257.6 1082.0L2256.9 1101.7L2254.5 1121.4L2257.1 1141.1L2261.0 1160.7L2265.5 1180.4L2268.3 1200.1L2268.5 1219.8L2270.8 1239.4L2271.8 1259.1L2275.7 1278.8L2278.3 1298.5L2278.2 1318.1L2279.8 1337.8L2280.3 1357.5L2283.3 1377.2L2286.7 1396.8L2284.7 1416.5L2278.2 1436.2L2271.3 1455.8L2266.0 1475.5L2265.8 1495.2L2264.5 1514.9L2260.5 1534.5L2261.8 1554.2L2258.2 1573.9L2257.5 1593.6L2255.8 1613.2L2253.8 1632.9L2257.7 1652.6L2253.7 1672.3L2256.0 1691.9L2254.1 1711.6L2255.1 1731.3L2253.9 1751.0L2254.3 1770.6L2255.9 1790.3L2257.0 1810.0L2253.8 1829.7L2254.8 1849.3L2255.9 1869.0L2254.1 1888.7" stroke="#a3362e" stroke-width="10.0"/>
<path d="M2262.5 177.1L2234.7 196.7L2260.4 216.4L2257.2 236.1L2271.2 255.7L2255.8 275.4L2227.9 295.1L2261.1 314.8L2230.9 334.4L2260.9 354.1L2212.6 373.8L2251.5 393.5L2241.9 413.1L2264.5 432.8L2251.3 452.5L2235.4 472.2L2227.0 491.8L2249.2 511.5L2246.9 531.2L2250.1 550.9L2246.9 570.5L2238.2 590.2L2246.1 609.9L2251.4 629.5L2250.5 649.2L2248.5 668.9L2238.8 688.6L2255.4 708.2L2252.9 727.9L2254.1 747.6L2255.0 767.3L2248.0 786.9L2247.6 806.6L2251.2 826.3L2256.0 846.0L2245.2 865.6L2250.2 885.3L2249.1 905.0L2253.0 924.7L2255.5 944.3L2251.3 964.0L2249.7 983.7L2252.7 1003.4L2252.8 1023.0L2251.4 1042.7L2256.5 1062.4L2254.8 1082.0L2258.7 1101.7L2257.4 1121.4L2263.4 1141.1L2263.4 1160.7L2272.1 1180.4L2272.5 1200.1L2278.7 1219.8L2277.8 1239.4L2278.1 1259.1L2283.1 1278.8L2286.3 1298.5L2284.5 1318.1L2284.3 1337.8L2284.9 1357.5L2284.8 1377.2L2282.9 1396.8L2283.6 1416.5L2278.4 1436.2L2272.1 1455.8L2269.3 1475.5L2265.0 1495.2L2266.6 1514.9L2262.8 1534.5L2260.6 1554.2L2260.0 1573.9L2258.2 1593.6L2256.3 1613.2L2254.6 1632.9L2256.5 1652.6L2255.6 1672.3L2252.7 1691.9L2253.5 1711.6L2255.4 1731.3L2254.9 1751.0L2255.1 1770.6L2255.5 1790.3L2255.0 1810.0L2256.6 1829.7L2254.1 1849.3L2254.4 1869.0L2255.2 1888.7" stroke="#b03d33" stroke-width="10.0"/>
<path d="M2263.1 177.1L2263.8 196.7L2276.6 216.4L2240.5 236.1L2270.4 255.7L2257.7 275.4L2230.6 295.1L2246.8 314.8L2284.0 334.4L2261.5 354.1L2242.5 373.8L2218.7 393.5L2239.4 413.1L2240.3 432.8L2250.2 452.5L2273.7 472.2L2256.7 491.8L2252.0 511.5L2242.0 531.2L2240.5 550.9L2247.8 570.5L2246.2 590.2L2262.7 609.9L2246.9 629.5L2245.9 649.2L2255.4 668.9L2249.9 688.6L2243.6 708.2L2255.5 727.9L2248.3 747.6L2244.2 767.3L2251.0 786.9L2251.6 806.6L2248.9 826.3L2252.7 846.0L2253.3 865.6L2248.2 885.3L2245.2 905.0L2245.4 924.7L2251.4 944.3L2254.9 964.0L2254.4 983.7L2255.2 1003.4L2256.8 1023.0L2254.2 1042.7L2256.8 1062.4L2253.0 1082.0L2258.4 1101.7L2259.4 1121.4L2259.6 1141.1L2261.8 1160.7L2264.0 1180.4L2270.0 1200.1L2272.8 1219.8L2272.1 1239.4L2275.4 1259.1L2276.0 1278.8L2279.3 1298.5L2277.9 1318.1L2280.2 1337.8L2280.5 1357.5L2283.2 1377.2L2284.0 1396.8L2282.1 1416.5L2277.2 1436.2L2273.0 1455.8L2270.1 1475.5L2265.5 1495.2L2264.8 1514.9L2262.8 1534.5L2260.7 1554.2L2256.7 1573.9L2257.4 1593.6L2255.0 1613.2L2256.8 1632.9L2256.2 1652.6L2255.8 1672.3L2252.3 1691.9L2255.5 1711.6L2255.6 1731.3L2262.9 1748.8L2368.4 1769.2L2760.0 1775.4L3410.8 1787.1L3410.8 1789.6L2889.1 1810.2L2819.5 1830.8L2091.4 1836.8" stroke="#bb4339" stroke-width="10.0"/>
<path d="M2225.4 177.1L2267.2 196.7L2250.6 216.4L2245.9 236.1L2236.3 255.7L2230.9 275.4L2241.5 295.1L2288.4 314.8L2252.6 334.4L2252.5 354.1L2239.9 373.8L2240.7 393.5L2241.9 413.1L2237.9 432.8L2259.9 452.5L2246.2 472.2L2257.9 491.8L2239.0 511.5L2256.5 531.2L2249.0 550.9L2253.9 570.5L2248.6 590.2L2243.8 609.9L2256.4 629.5L2246.9 649.2L2248.6 668.9L2245.0 688.6L2250.5 708.2L2247.8 727.9L2250.9 747.6L2251.1 767.3L2247.1 786.9L2244.6 806.6L2251.6 826.3L2253.5 846.0L2252.9 865.6L2247.4 885.3L2253.0 905.0L2252.5 924.7L2252.5 944.3L2253.0 964.0L2251.6 983.7L2253.0 1003.4L2255.1 1023.0L2253.3 1042.7L2252.4 1062.4L2255.6 1082.0L2257.9 1101.7L2256.5 1121.4L2260.5 1141.1L2266.7 1160.7L2270.1 1180.4L2275.2 1200.1L2274.0 1219.8L2278.5 1239.4L2281.1 1259.1L2280.3 1278.8L2281.5 1298.5L2281.1 1318.1L2283.6 1337.8L2282.8 1357.5L2282.8 1377.2L2287.0 1396.8L2284.9 1416.5L2278.6 1436.2L2269.4 1455.8L2267.9 1475.5L2266.7 1495.2L2262.3 1514.9L2263.0 1534.5L2262.0 1554.2L2259.9 1573.9L2270.4 1593.6L2255.3 1613.2L2256.5 1632.9L2256.4 1652.6L2256.6 1672.3L2256.4 1691.9L2254.7 1711.6L2254.3 1731.3L2252.6 1751.0L2255.7 1770.6L2257.4 1790.3L2254.3 1810.0L2254.3 1829.7L2255.5 1849.3L2255.2 1869.0L2253.3 1888.7" stroke="#c94b3f" stroke-width="10.0"/>
<path d="M2235.9 177.1L2228.9 196.7L2286.4 216.4L2236.1 236.1L2264.7 255.7L2283.8 275.4L2283.2 295.1L2274.6 314.8L2276.4 334.4L2230.0 354.1L2244.3 373.8L2239.1 393.5L2245.4 413.1L2277.4 432.8L2228.7 452.5L2255.5 472.2L2236.9 491.8L2261.1 511.5L2259.4 531.2L2245.5 550.9L2263.6 570.5L2249.7 590.2L2257.2 609.9L2251.1 629.5L2246.2 649.2L2247.4 668.9L2248.9 688.6L2252.5 708.2L2250.2 727.9L2259.2 747.6L2248.9 767.3L2247.9 786.9L2247.2 806.6L2247.3 826.3L2245.5 846.0L2247.5 865.6L2253.7 885.3L2251.4 905.0L2251.0 924.7L2252.6 944.3L2254.5 964.0L2253.6 983.7L2254.0 1003.4L2252.3 1023.0L2253.7 1042.7L2253.6 1062.4L2255.6 1082.0L2256.1 1101.7L2258.8 1121.4L2260.9 1141.1L2264.6 1160.7L2268.8 1180.4L2272.9 1200.1L2276.4 1219.8L2274.7 1239.4L2274.5 1259.1L2277.9 1278.8L2277.6 1298.5L2277.9 1318.1L2279.8 1337.8L2278.5 1357.5L2279.8 1377.2L2285.2 1396.8L2285.1 1416.5L2275.5 1436.2L2270.5 1455.8L2268.7 1475.5L2263.3 1495.2L2262.7 1514.9L2260.3 1534.5L2260.0 1554.2L2256.1 1573.9L2258.1 1593.6L2256.0 1613.2L2255.7 1632.9L2254.8 1652.6L2252.5 1672.3L2262.1 1691.7L2378.4 1712.0L2760.0 1717.0L3386.0 1726.2" stroke="#d65145" stroke-width="10.0"/>
<path d="M2246.4 177.1L2224.4 196.7L2249.4 216.4L2260.4 236.1L2201.5 255.7L2265.9 275.4L2213.7 295.1L2260.4 314.8L2238.1 334.4L2269.3 354.1L2224.8 373.8L2258.1 393.5L2243.7 413.1L2247.7 432.8L2218.1 452.5L2260.4 472.2L2249.6 491.8L2267.0 511.5L2235.9 531.2L2260.4 550.9L2242.2 570.5L2237.9 590.2L2239.5 609.9L2254.3 629.5L2251.0 649.2L2258.0 668.9L2239.6 688.6L2245.3 708.2L2256.2 727.9L2254.1 747.6L2253.3 767.3L2253.1 786.9L2249.9 806.6L2250.0 826.3L2250.5 846.0L2253.4 865.6L2250.4 885.3L2252.1 905.0L2255.5 924.7L2248.9 944.3L2250.3 964.0L2253.5 983.7L2252.1 1003.4L2253.1 1023.0L2258.0 1042.7L2255.7 1062.4L2255.0 1082.0L2259.4 1101.7L2263.2 1121.4L2259.8 1141.1L2264.6 1160.7L2270.4 1180.4L2273.8 1200.1L2278.7 1219.8L2276.7 1239.4L2275.8 1259.1L2278.5 1278.8L2278.1 1298.5L2278.6 1318.1L2279.8 1337.8L2283.8 1357.5L2279.8 1377.2L2285.4 1396.8L2285.5 1416.5L2278.7 1436.2L2274.2 1455.8L2268.6 1475.5L2266.1 1495.2L2263.7 1514.9L2260.7 1534.5L2262.3 1554.2L2257.1 1573.9L2256.9 1593.6L2255.5 1613.2L2254.4 1632.9L2252.5 1652.6L2254.6 1672.3L2255.1 1691.9L2255.0 1711.6L2255.8 1731.3L2254.6 1751.0L2254.1 1770.6L2255.2 1790.3L2255.6 1810.0L2253.8 1829.7L2253.1 1849.3L2253.6 1869.0L2256.0 1888.7" stroke="#e3574a" stroke-width="10.0"/>
<path d="M2267.9 177.1L2215.9 196.7L2277.0 216.4L2315.9 236.1L2260.4 255.7L2227.0 275.4L2262.6 295.1L2299.3 314.8L2249.2 334.4L2235.9 354.1L2258.1 373.8L2229.2 393.5L2255.9 413.1L2287.0 432.8L2233.7 452.5L2255.9 472.2L2271.5 491.8L2242.6 511.5L2253.7 531.2L2240.4 550.9L2262.6 570.5L2244.8 590.2L2255.9 609.9L2256.5 629.5L2254.0 649.2L2259.8 668.9L2250.8 688.6L2249.4 708.2L2242.2 727.9L2251.4 747.6L2242.6 767.3L2255.7 786.9L2247.5 806.6L2250.1 826.3L2245.8 846.0L2249.0 865.6L2248.0 885.3L2254.5 905.0L2252.2 924.7L2248.7 944.3L2247.5 964.0L2252.2 983.7L2251.7 1003.4L2251.3 1023.0L2255.2 1042.7L2254.6 1062.4L2255.9 1082.0L2256.5 1101.7L2258.6 1121.4L2260.9 1141.1L2263.1 1160.7L2271.2 1180.4L2275.4 1200.1L2272.7 1219.8L2276.0 1239.4L2278.2 1259.1L2278.1 1278.8L2281.1 1298.5L2279.1 1318.1L2279.7 1337.8L2279.0 1357.5L2281.6 1377.2L2282.4 1396.8L2282.5 1416.5L2278.0 1436.2L2272.3 1455.8L2269.5 1475.5L2266.1 1495.2L2262.6 1514.9L2262.4 1534.5L2260.0 1554.2L2260.9 1573.9L2259.5 1593.6L2257.4 1613.2L2254.0 1632.9L2254.6 1652.6L2255.3 1672.3L2254.1 1691.9L2255.4 1711.6L2255.6 1731.3L2257.9 1749.3L2266.6 1769.2L2297.6 1789.1L2760.0 1805.2L2887.8 1809.4L2808.3 1831.8L2091.4 1847.7" stroke="#ee5c4b" stroke-width="10.0"/>
</g>
<rect x="672.3" y="216.4" width="1222.1" height="1652.6" fill="none" stroke="#fff" stroke-width="5.4"/>
<path d="M669.6 1790.3h-9.5" stroke="#fff" stroke-width="3.4"/>
<path d="M669.6 1593.6h-9.5" stroke="#fff" stroke-width="3.4"/>
<path d="M669.6 1396.8h-9.5" stroke="#fff" stroke-width="3.4"/>
<path d="M669.6 1200.1h-9.5" stroke="#fff" stroke-width="3.4"/>
<path d="M669.6 1003.4h-9.5" stroke="#fff" stroke-width="3.4"/>
<path d="M669.6 806.6h-9.5" stroke="#fff" stroke-width="3.4"/>
<path d="M669.6 609.9h-9.5" stroke="#fff" stroke-width="3.4"/>
<path d="M669.6 413.1h-9.5" stroke="#fff" stroke-width="3.4"/>
<path d="M669.6 216.4h-9.5" stroke="#fff" stroke-width="3.4"/>
<path d="M783.4 1871.7v9.5" stroke="#fff" stroke-width="3.4"/>
<path d="M1005.6 1871.7v9.5" stroke="#fff" stroke-width="3.4"/>
<path d="M1227.8 1871.7v9.5" stroke="#fff" stroke-width="3.4"/>
<path d="M1450.0 1871.7v9.5" stroke="#fff" stroke-width="3.4"/>
<path d="M1672.2 1871.7v9.5" stroke="#fff" stroke-width="3.4"/>
<path d="M1894.4 1871.7v9.5" stroke="#fff" stroke-width="3.4"/>
<rect x="2138.1" y="216.4" width="1222.6" height="1652.6" fill="none" stroke="#fff" stroke-width="5.4"/>
<path d="M2135.4 1790.3h-9.5" stroke="#fff" stroke-width="3.4"/>
<path d="M2135.4 1593.6h-9.5" stroke="#fff" stroke-width="3.4"/>
<path d="M2135.4 1396.8h-9.5" stroke="#fff" stroke-width="3.4"/>
<path d="M2135.4 1200.1h-9.5" stroke="#fff" stroke-width="3.4"/>
<path d="M2135.4 1003.4h-9.5" stroke="#fff" stroke-width="3.4"/>
<path d="M2135.4 806.6h-9.5" stroke="#fff" stroke-width="3.4"/>
<path d="M2135.4 609.9h-9.5" stroke="#fff" stroke-width="3.4"/>
<path d="M2135.4 413.1h-9.5" stroke="#fff" stroke-width="3.4"/>
<path d="M2135.4 216.4h-9.5" stroke="#fff" stroke-width="3.4"/>
<path d="M2249.2 1871.7v9.5" stroke="#fff" stroke-width="3.4"/>
<path d="M2471.5 1871.7v9.5" stroke="#fff" stroke-width="3.4"/>
<path d="M2693.8 1871.7v9.5" stroke="#fff" stroke-width="3.4"/>
<path d="M2916.1 1871.7v9.5" stroke="#fff" stroke-width="3.4"/>
<path d="M3138.4 1871.7v9.5" stroke="#fff" stroke-width="3.4"/>
<path d="M3360.7 1871.7v9.5" stroke="#fff" stroke-width="3.4"/>
<text x="596.04" y="233.1" font-family="Liberation Sans" font-size="44.80" font-weight="normal" fill="#fff" textLength="50.73" lengthAdjust="spacingAndGlyphs" stroke="#fff" stroke-width="0.92" stroke-linejoin="round">50</text>
<text x="595.74" y="429.9" font-family="Liberation Sans" font-size="44.80" font-weight="normal" fill="#fff" textLength="51.04" lengthAdjust="spacingAndGlyphs" stroke="#fff" stroke-width="0.92" stroke-linejoin="round">45</text>
<text x="594.10" y="626.6" font-family="Liberation Sans" font-size="44.80" font-weight="normal" fill="#fff" textLength="52.70" lengthAdjust="spacingAndGlyphs" stroke="#fff" stroke-width="0.92" stroke-linejoin="round">40</text>
<text x="598.29" y="823.4" font-family="Liberation Sans" font-size="44.80" font-weight="normal" fill="#fff" textLength="48.44" lengthAdjust="spacingAndGlyphs" stroke="#fff" stroke-width="0.92" stroke-linejoin="round">35</text>
<text x="596.14" y="1020.1" font-family="Liberation Sans" font-size="44.80" font-weight="normal" fill="#fff" textLength="50.62" lengthAdjust="spacingAndGlyphs" stroke="#fff" stroke-width="0.92" stroke-linejoin="round">30</text>
<text x="598.63" y="1216.8" font-family="Liberation Sans" font-size="44.80" font-weight="normal" fill="#fff" textLength="48.09" lengthAdjust="spacingAndGlyphs" stroke="#fff" stroke-width="0.92" stroke-linejoin="round">25</text>
<text x="597.07" y="1413.6" font-family="Liberation Sans" font-size="44.80" font-weight="normal" fill="#fff" textLength="49.69" lengthAdjust="spacingAndGlyphs" stroke="#fff" stroke-width="0.92" stroke-linejoin="round">20</text>
<text x="603.67" y="1610.3" font-family="Liberation Sans" font-size="44.80" font-weight="normal" fill="#fff" textLength="42.95" lengthAdjust="spacingAndGlyphs" stroke="#fff" stroke-width="0.92" stroke-linejoin="round">15</text>
<text x="598.88" y="1807.0" font-family="Liberation Sans" font-size="44.80" font-weight="normal" fill="#fff" textLength="47.84" lengthAdjust="spacingAndGlyphs" stroke="#fff" stroke-width="0.92" stroke-linejoin="round">10</text>
<text x="771.40" y="1926.4" font-family="Liberation Sans" font-size="44.80" font-weight="normal" fill="#fff" textLength="23.92" lengthAdjust="spacingAndGlyphs" stroke="#fff" stroke-width="0.92" stroke-linejoin="round">0</text>
<text x="980.22" y="1926.4" font-family="Liberation Sans" font-size="44.80" font-weight="normal" fill="#fff" textLength="49.69" lengthAdjust="spacingAndGlyphs" stroke="#fff" stroke-width="0.92" stroke-linejoin="round">20</text>
<text x="1201.61" y="1926.4" font-family="Liberation Sans" font-size="44.80" font-weight="normal" fill="#fff" textLength="52.29" lengthAdjust="spacingAndGlyphs" stroke="#fff" stroke-width="0.92" stroke-linejoin="round">40</text>
<text x="1423.80" y="1926.4" font-family="Liberation Sans" font-size="44.80" font-weight="normal" fill="#fff" textLength="51.28" lengthAdjust="spacingAndGlyphs" stroke="#fff" stroke-width="0.92" stroke-linejoin="round">60</text>
<text x="1646.79" y="1926.4" font-family="Liberation Sans" font-size="44.80" font-weight="normal" fill="#fff" textLength="50.73" lengthAdjust="spacingAndGlyphs" stroke="#fff" stroke-width="0.92" stroke-linejoin="round">80</text>
<text x="1856.83" y="1926.4" font-family="Liberation Sans" font-size="44.80" font-weight="normal" fill="#fff" textLength="73.11" lengthAdjust="spacingAndGlyphs" stroke="#fff" stroke-width="0.92" stroke-linejoin="round">100</text>
<text x="734.43" y="2001.3" font-family="Liberation Sans" font-size="56.34" font-weight="normal" fill="#fff" textLength="1100.57" lengthAdjust="spacingAndGlyphs" stroke="#fff" stroke-width="1.16" stroke-linejoin="round">Aerosol-To-Molecular Extinction Ratio</text>
<text x="557.82" y="1234.3" font-family="Liberation Sans" font-size="56.34" font-weight="normal" fill="#fff" textLength="383.35" lengthAdjust="spacingAndGlyphs" stroke="#fff" stroke-width="1.16" stroke-linejoin="round" transform="rotate(-90 557.8 1234.3)">Altitude [km]</text>
<text x="2061.84" y="233.1" font-family="Liberation Sans" font-size="44.80" font-weight="normal" fill="#fff" textLength="50.73" lengthAdjust="spacingAndGlyphs" stroke="#fff" stroke-width="0.92" stroke-linejoin="round">50</text>
<text x="2061.54" y="429.9" font-family="Liberation Sans" font-size="44.80" font-weight="normal" fill="#fff" textLength="51.04" lengthAdjust="spacingAndGlyphs" stroke="#fff" stroke-width="0.92" stroke-linejoin="round">45</text>
<text x="2059.90" y="626.6" font-family="Liberation Sans" font-size="44.80" font-weight="normal" fill="#fff" textLength="52.70" lengthAdjust="spacingAndGlyphs" stroke="#fff" stroke-width="0.92" stroke-linejoin="round">40</text>
<text x="2064.09" y="823.4" font-family="Liberation Sans" font-size="44.80" font-weight="normal" fill="#fff" textLength="48.44" lengthAdjust="spacingAndGlyphs" stroke="#fff" stroke-width="0.92" stroke-linejoin="round">35</text>
<text x="2061.94" y="1020.1" font-family="Liberation Sans" font-size="44.80" font-weight="normal" fill="#fff" textLength="50.62" lengthAdjust="spacingAndGlyphs" stroke="#fff" stroke-width="0.92" stroke-linejoin="round">30</text>
<text x="2064.43" y="1216.8" font-family="Liberation Sans" font-size="44.80" font-weight="normal" fill="#fff" textLength="48.09" lengthAdjust="spacingAndGlyphs" stroke="#fff" stroke-width="0.92" stroke-linejoin="round">25</text>
<text x="2062.87" y="1413.6" font-family="Liberation Sans" font-size="44.80" font-weight="normal" fill="#fff" textLength="49.69" lengthAdjust="spacingAndGlyphs" stroke="#fff" stroke-width="0.92" stroke-linejoin="round">20</text>
<text x="2069.47" y="1610.3" font-family="Liberation Sans" font-size="44.80" font-weight="normal" fill="#fff" textLength="42.95" lengthAdjust="spacingAndGlyphs" stroke="#fff" stroke-width="0.92" stroke-linejoin="round">15</text>
<text x="2064.68" y="1807.0" font-family="Liberation Sans" font-size="44.80" font-weight="normal" fill="#fff" textLength="47.84" lengthAdjust="spacingAndGlyphs" stroke="#fff" stroke-width="0.92" stroke-linejoin="round">10</text>
<text x="2237.25" y="1926.4" font-family="Liberation Sans" font-size="44.80" font-weight="normal" fill="#fff" textLength="23.92" lengthAdjust="spacingAndGlyphs" stroke="#fff" stroke-width="0.92" stroke-linejoin="round">0</text>
<text x="2446.15" y="1926.4" font-family="Liberation Sans" font-size="44.80" font-weight="normal" fill="#fff" textLength="49.69" lengthAdjust="spacingAndGlyphs" stroke="#fff" stroke-width="0.92" stroke-linejoin="round">20</text>
<text x="2667.64" y="1926.4" font-family="Liberation Sans" font-size="44.80" font-weight="normal" fill="#fff" textLength="52.29" lengthAdjust="spacingAndGlyphs" stroke="#fff" stroke-width="0.92" stroke-linejoin="round">40</text>
<text x="2889.92" y="1926.4" font-family="Liberation Sans" font-size="44.80" font-weight="normal" fill="#fff" textLength="51.28" lengthAdjust="spacingAndGlyphs" stroke="#fff" stroke-width="0.92" stroke-linejoin="round">60</text>
<text x="3113.00" y="1926.4" font-family="Liberation Sans" font-size="44.80" font-weight="normal" fill="#fff" textLength="50.73" lengthAdjust="spacingAndGlyphs" stroke="#fff" stroke-width="0.92" stroke-linejoin="round">80</text>
<text x="3323.13" y="1926.4" font-family="Liberation Sans" font-size="44.80" font-weight="normal" fill="#fff" textLength="73.11" lengthAdjust="spacingAndGlyphs" stroke="#fff" stroke-width="0.92" stroke-linejoin="round">100</text>
<text x="2200.48" y="2001.3" font-family="Liberation Sans" font-size="56.34" font-weight="normal" fill="#fff" textLength="1100.57" lengthAdjust="spacingAndGlyphs" stroke="#fff" stroke-width="1.16" stroke-linejoin="round">Aerosol-To-Molecular Extinction Ratio</text>
<text x="2023.62" y="1234.3" font-family="Liberation Sans" font-size="56.34" font-weight="normal" fill="#fff" textLength="383.35" lengthAdjust="spacingAndGlyphs" stroke="#fff" stroke-width="1.16" stroke-linejoin="round" transform="rotate(-90 2023.6 1234.3)">Altitude [km]</text>
<rect x="13.5" y="759.6" width="424.8" height="896.8" rx="7" ry="7" fill="#000" stroke="#aaaaaa" stroke-width="3.2"/>
<path d="M24.1 790.9H113.8" stroke="#0b4a72" stroke-width="10"/>
<text x="143.50" y="804.4" font-family="Liberation Sans" font-size="39.23" font-weight="normal" fill="#fff" textLength="273.52" lengthAdjust="spacingAndGlyphs" stroke="#fff" stroke-width="0.81" stroke-linejoin="round">2021030601SR</text>
<path d="M24.1 849.9H113.8" stroke="#0b4f79" stroke-width="10"/>
<text x="143.49" y="863.4" font-family="Liberation Sans" font-size="39.23" font-weight="normal" fill="#fff" textLength="276.85" lengthAdjust="spacingAndGlyphs" stroke="#fff" stroke-width="0.81" stroke-linejoin="round">2021030605SR</text>
<path d="M24.1 908.9H113.8" stroke="#0b547f" stroke-width="10"/>
<text x="143.49" y="922.4" font-family="Liberation Sans" font-size="39.23" font-weight="normal" fill="#fff" textLength="276.04" lengthAdjust="spacingAndGlyphs" stroke="#fff" stroke-width="0.81" stroke-linejoin="round">2021030609SR</text>
<path d="M24.1 967.9H113.8" stroke="#0b5986" stroke-width="10"/>
<text x="143.51" y="981.4" font-family="Liberation Sans" font-size="39.23" font-weight="normal" fill="#fff" textLength="270.29" lengthAdjust="spacingAndGlyphs" stroke="#fff" stroke-width="0.81" stroke-linejoin="round">2021030613SR</text>
<path d="M24.1 1026.9H113.8" stroke="#0c5d8d" stroke-width="10"/>
<text x="143.51" y="1040.4" font-family="Liberation Sans" font-size="39.23" font-weight="normal" fill="#fff" textLength="271.10" lengthAdjust="spacingAndGlyphs" stroke="#fff" stroke-width="0.81" stroke-linejoin="round">2021030621SR</text>
<path d="M24.1 1085.9H113.8" stroke="#0c6294" stroke-width="10"/>
<text x="143.50" y="1099.4" font-family="Liberation Sans" font-size="39.23" font-weight="normal" fill="#fff" textLength="274.33" lengthAdjust="spacingAndGlyphs" stroke="#fff" stroke-width="0.81" stroke-linejoin="round">2021030625SR</text>
<path d="M24.1 1144.9H113.8" stroke="#0c679a" stroke-width="10"/>
<text x="143.50" y="1158.4" font-family="Liberation Sans" font-size="39.23" font-weight="normal" fill="#fff" textLength="273.12" lengthAdjust="spacingAndGlyphs" stroke="#fff" stroke-width="0.81" stroke-linejoin="round">2021030629SR</text>
<path d="M24.1 1203.9H113.8" stroke="#0c6ca1" stroke-width="10"/>
<text x="143.51" y="1217.4" font-family="Liberation Sans" font-size="39.23" font-weight="normal" fill="#fff" textLength="271.10" lengthAdjust="spacingAndGlyphs" stroke="#fff" stroke-width="0.81" stroke-linejoin="round">2021030633SR</text>
<path d="M24.1 1262.9H113.8" stroke="#0c71a8" stroke-width="10"/>
<text x="143.51" y="1276.4" font-family="Liberation Sans" font-size="39.23" font-weight="normal" fill="#fff" textLength="271.81" lengthAdjust="spacingAndGlyphs" stroke="#fff" stroke-width="0.81" stroke-linejoin="round">2021030637SR</text>
<path d="M24.1 1321.9H113.8" stroke="#0c76ae" stroke-width="10"/>
<text x="143.50" y="1335.4" font-family="Liberation Sans" font-size="39.23" font-weight="normal" fill="#fff" textLength="274.33" lengthAdjust="spacingAndGlyphs" stroke="#fff" stroke-width="0.81" stroke-linejoin="round">2021030641SR</text>
<path d="M24.1 1380.9H113.8" stroke="#0c7bb5" stroke-width="10"/>
<text x="143.49" y="1394.4" font-family="Liberation Sans" font-size="39.23" font-weight="normal" fill="#fff" textLength="277.35" lengthAdjust="spacingAndGlyphs" stroke="#fff" stroke-width="0.81" stroke-linejoin="round">2021030645SR</text>
<path d="M24.1 1439.9H113.8" stroke="#0d7fbc" stroke-width="10"/>
<text x="143.49" y="1453.4" font-family="Liberation Sans" font-size="39.23" font-weight="normal" fill="#fff" textLength="276.55" lengthAdjust="spacingAndGlyphs" stroke="#fff" stroke-width="0.81" stroke-linejoin="round">2021030649SR</text>
<path d="M24.1 1498.9H113.8" stroke="#0d84c3" stroke-width="10"/>
<text x="143.50" y="1512.4" font-family="Liberation Sans" font-size="39.23" font-weight="normal" fill="#fff" textLength="273.52" lengthAdjust="spacingAndGlyphs" stroke="#fff" stroke-width="0.81" stroke-linejoin="round">2021030653SR</text>
<path d="M24.1 1557.9H113.8" stroke="#0d89c9" stroke-width="10"/>
<text x="143.50" y="1571.4" font-family="Liberation Sans" font-size="39.23" font-weight="normal" fill="#fff" textLength="274.33" lengthAdjust="spacingAndGlyphs" stroke="#fff" stroke-width="0.81" stroke-linejoin="round">2021030656SR</text>
<path d="M24.1 1616.9H113.8" stroke="#0d8ed0" stroke-width="10"/>
<text x="143.50" y="1630.4" font-family="Liberation Sans" font-size="39.23" font-weight="normal" fill="#fff" textLength="274.33" lengthAdjust="spacingAndGlyphs" stroke="#fff" stroke-width="0.81" stroke-linejoin="round">2021030659SR</text>
<rect x="3380.4" y="788.5" width="421.2" height="837.6" rx="7" ry="7" fill="#000" stroke="#aaaaaa" stroke-width="3.2"/>
<path d="M3391.0 819.8H3481.1" stroke="#3c0000" stroke-width="10"/>
<text x="3509.80" y="833.3" font-family="Liberation Sans" font-size="39.23" font-weight="normal" fill="#fff" textLength="271.96" lengthAdjust="spacingAndGlyphs" stroke="#fff" stroke-width="0.81" stroke-linejoin="round">2021030603SS</text>
<path d="M3391.0 878.8H3481.1" stroke="#560d0b" stroke-width="10"/>
<text x="3509.80" y="892.3" font-family="Liberation Sans" font-size="39.23" font-weight="normal" fill="#fff" textLength="272.57" lengthAdjust="spacingAndGlyphs" stroke="#fff" stroke-width="0.81" stroke-linejoin="round">2021030607SS</text>
<path d="M3391.0 937.8H3481.1" stroke="#64130f" stroke-width="10"/>
<text x="3509.81" y="951.3" font-family="Liberation Sans" font-size="39.23" font-weight="normal" fill="#fff" textLength="266.34" lengthAdjust="spacingAndGlyphs" stroke="#fff" stroke-width="0.81" stroke-linejoin="round">2021030611SS</text>
<path d="M3391.0 996.8H3481.1" stroke="#711812" stroke-width="10"/>
<text x="3509.81" y="1010.3" font-family="Liberation Sans" font-size="39.23" font-weight="normal" fill="#fff" textLength="269.24" lengthAdjust="spacingAndGlyphs" stroke="#fff" stroke-width="0.81" stroke-linejoin="round">2021030615SS</text>
<path d="M3391.0 1055.8H3481.1" stroke="#7d1e19" stroke-width="10"/>
<text x="3509.81" y="1069.3" font-family="Liberation Sans" font-size="39.23" font-weight="normal" fill="#fff" textLength="268.53" lengthAdjust="spacingAndGlyphs" stroke="#fff" stroke-width="0.81" stroke-linejoin="round">2021030619SS</text>
<path d="M3391.0 1114.8H3481.1" stroke="#8c2620" stroke-width="10"/>
<text x="3509.81" y="1128.3" font-family="Liberation Sans" font-size="39.23" font-weight="normal" fill="#fff" textLength="269.94" lengthAdjust="spacingAndGlyphs" stroke="#fff" stroke-width="0.81" stroke-linejoin="round">2021030623SS</text>
<path d="M3391.0 1173.8H3481.1" stroke="#9a2f28" stroke-width="10"/>
<text x="3509.80" y="1187.3" font-family="Liberation Sans" font-size="39.23" font-weight="normal" fill="#fff" textLength="270.45" lengthAdjust="spacingAndGlyphs" stroke="#fff" stroke-width="0.81" stroke-linejoin="round">2021030627SS</text>
<path d="M3391.0 1232.8H3481.1" stroke="#a3362e" stroke-width="10"/>
<text x="3509.82" y="1246.3" font-family="Liberation Sans" font-size="39.23" font-weight="normal" fill="#fff" textLength="267.73" lengthAdjust="spacingAndGlyphs" stroke="#fff" stroke-width="0.81" stroke-linejoin="round">2021030631SS</text>
<path d="M3391.0 1291.8H3481.1" stroke="#b03d33" stroke-width="10"/>
<text x="3509.80" y="1305.3" font-family="Liberation Sans" font-size="39.23" font-weight="normal" fill="#fff" textLength="270.45" lengthAdjust="spacingAndGlyphs" stroke="#fff" stroke-width="0.81" stroke-linejoin="round">2021030635SS</text>
<path d="M3391.0 1350.8H3481.1" stroke="#bb4339" stroke-width="10"/>
<text x="3509.81" y="1364.3" font-family="Liberation Sans" font-size="39.23" font-weight="normal" fill="#fff" textLength="269.94" lengthAdjust="spacingAndGlyphs" stroke="#fff" stroke-width="0.81" stroke-linejoin="round">2021030639SS</text>
<path d="M3391.0 1409.8H3481.1" stroke="#c94b3f" stroke-width="10"/>
<text x="3509.80" y="1423.3" font-family="Liberation Sans" font-size="39.23" font-weight="normal" fill="#fff" textLength="272.57" lengthAdjust="spacingAndGlyphs" stroke="#fff" stroke-width="0.81" stroke-linejoin="round">2021030643SS</text>
<path d="M3391.0 1468.8H3481.1" stroke="#d65145" stroke-width="10"/>
<text x="3509.79" y="1482.3" font-family="Liberation Sans" font-size="39.23" font-weight="normal" fill="#fff" textLength="273.17" lengthAdjust="spacingAndGlyphs" stroke="#fff" stroke-width="0.81" stroke-linejoin="round">2021030647SS</text>
<path d="M3391.0 1527.8H3481.1" stroke="#e3574a" stroke-width="10"/>
<text x="3509.81" y="1541.3" font-family="Liberation Sans" font-size="39.23" font-weight="normal" fill="#fff" textLength="269.24" lengthAdjust="spacingAndGlyphs" stroke="#fff" stroke-width="0.81" stroke-linejoin="round">2021030651SS</text>
<path d="M3391.0 1586.8H3481.1" stroke="#ee5c4b" stroke-width="10"/>
<text x="3509.80" y="1600.3" font-family="Liberation Sans" font-size="39.23" font-weight="normal" fill="#fff" textLength="271.56" lengthAdjust="spacingAndGlyphs" stroke="#fff" stroke-width="0.81" stroke-linejoin="round">2021030655SS</text>
<path d="M39.8 1980.1H120" stroke="#fff" stroke-width="10" stroke-dasharray="36.8 16.6"/>
<path d="M39.8 2039.8H120.5" stroke="#fff" stroke-width="10" stroke-dasharray="10.2 16.4"/>
<rect x="40.8" y="2085.5" width="80" height="27.5" fill="#676a6f" stroke="#9b9da0" stroke-width="3"/>
<text x="152.74" y="1993.6" font-family="Liberation Sans" font-size="39.51" font-weight="normal" fill="#fff" textLength="347.81" lengthAdjust="spacingAndGlyphs" stroke="#fff" stroke-width="0.81" stroke-linejoin="round">Mean Tropopause</text>
<text x="152.71" y="2053.4" font-family="Liberation Sans" font-size="39.51" font-weight="normal" fill="#fff" textLength="384.05" lengthAdjust="spacingAndGlyphs" stroke="#fff" stroke-width="0.81" stroke-linejoin="round">Median Tropopause</text>
<text x="156.00" y="2113.1" font-family="Liberation Sans" font-size="39.51" font-weight="normal" fill="#fff" textLength="363.94" lengthAdjust="spacingAndGlyphs" stroke="#fff" stroke-width="0.81" stroke-linejoin="round">Tropopause Range</text>
<text x="3268.30" y="2038.6" font-family="Liberation Sans" font-size="32.72" font-weight="normal" fill="#808080" textLength="93.71" lengthAdjust="spacingAndGlyphs" stroke="#808080" stroke-width="0.67" stroke-linejoin="round">SAGE</text>
<text x="3447.77" y="2038.6" font-family="Liberation Sans" font-size="32.72" font-weight="normal" fill="#808080" textLength="42.09" lengthAdjust="spacingAndGlyphs" stroke="#808080" stroke-width="0.67" stroke-linejoin="round">SS</text>
<text x="3500.08" y="2038.6" font-family="Liberation Sans" font-size="32.72" font-weight="normal" fill="#808080" textLength="119.47" lengthAdjust="spacingAndGlyphs" stroke="#808080" stroke-width="0.67" stroke-linejoin="round">Mission</text>
<text x="3646.67" y="2038.6" font-family="Liberation Sans" font-size="32.72" font-weight="normal" fill="#808080" textLength="91.91" lengthAdjust="spacingAndGlyphs" stroke="#808080" stroke-width="0.67" stroke-linejoin="round">NASA</text>
<text x="3749.88" y="2038.6" font-family="Liberation Sans" font-size="32.72" font-weight="normal" fill="#808080" textLength="85.93" lengthAdjust="spacingAndGlyphs" stroke="#808080" stroke-width="0.67" stroke-linejoin="round">LaRC</text>
<path d="M3369.0 2014.8h11.3v3.3h-3.7v17.5h3.7v3.3h-11.3v-3.3h3.7v-17.5h-3.7z" fill="#808080"/>
<path d="M3385.0 2014.8h11.3v3.3h-3.7v17.5h3.7v3.3h-11.3v-3.3h3.7v-17.5h-3.7z" fill="#808080"/>
<path d="M3400.9 2014.8h11.3v3.3h-3.7v17.5h3.7v3.3h-11.3v-3.3h3.7v-17.5h-3.7z" fill="#808080"/>
<path d="M3435.4 2014.8h11.3v3.3h-3.7v17.5h3.7v3.3h-11.3v-3.3h3.7v-17.5h-3.7z" fill="#808080"/>
<path d="M3415.7 2043.5h4.2l13.6 -31.5h-4.2z" fill="#808080"/>
<path d="M3630.6 2013.5h4v30h-4z" fill="#808080"/>
<text x="3311.94" y="2076.5" font-family="Liberation Sans" font-size="32.58" font-weight="normal" fill="#808080" textLength="525.26" lengthAdjust="spacingAndGlyphs" stroke="#808080" stroke-width="0.67" stroke-linejoin="round">Preparer: Kevin R. Leavor (AMA)</text>
<text x="3389.27" y="2113.9" font-family="Liberation Sans" font-size="32.58" font-weight="normal" fill="#808080" textLength="447.08" lengthAdjust="spacingAndGlyphs" stroke="#808080" stroke-width="0.67" stroke-linejoin="round">Generated 2025-07-17 22:25</text>
<text x="3533.55" y="2150.6" font-family="Liberation Sans" font-size="32.58" font-weight="normal" fill="#808080" textLength="302.84" lengthAdjust="spacingAndGlyphs" stroke="#808080" stroke-width="0.67" stroke-linejoin="round">Data Version: 6.0.0</text>
<g id="logo">
<path d="M3528.0 18.0H3796.0A34.0 34.0 0 0 1 3830.0 52.0V224.0A168.0 167.7 0 0 1 3494.0 224.0V52.0A34.0 34.0 0 0 1 3528.0 18.0z" fill="#e8594a"/>
<path d="M3528.0 24.6H3796.0A27.4 27.4 0 0 1 3823.4 52.0V224.0A161.4 161.1 0 0 1 3500.6 224.0V52.0A27.4 27.4 0 0 1 3528.0 24.6z" fill="#07508a"/>
<text x="3526.33" y="59.6" font-family="Liberation Serif" font-size="43.58" font-weight="bold" fill="#fff" textLength="110.69" lengthAdjust="spacingAndGlyphs">SAGE</text>
<text x="3650.90" y="59.6" font-family="Liberation Serif" font-size="43.58" font-weight="bold" fill="#fff" textLength="50.86" lengthAdjust="spacingAndGlyphs">III</text>
<circle cx="3715.9" cy="45.6" r="4.3" fill="#fff"/>
<text x="3732.05" y="59.6" font-family="Liberation Serif" font-size="43.58" font-weight="bold" fill="#fff" textLength="62.12" lengthAdjust="spacingAndGlyphs">ISS</text>
<text x="3527.90" y="71.9" font-family="Liberation Sans" font-size="8.52" font-weight="normal" fill="#d5dde8" textLength="173.57" lengthAdjust="spacingAndGlyphs">Stratospheric Aerosol and Gas Experiment III</text>
<text x="3737.10" y="71.9" font-family="Liberation Sans" font-size="8.52" font-weight="normal" fill="#d5dde8" textLength="52.28" lengthAdjust="spacingAndGlyphs">International</text>
<text x="3733.60" y="82.9" font-family="Liberation Sans" font-size="8.52" font-weight="normal" fill="#d5dde8" textLength="59.11" lengthAdjust="spacingAndGlyphs">Space Station</text>
<circle cx="3662.0" cy="220.5" r="141" fill="#c9cfd9"/>
<clipPath id="lg"><circle cx="3662.0" cy="220.5" r="125.8"/></clipPath>
<g clip-path="url(#lg)">
<circle cx="3662.0" cy="220.5" r="127" fill="#07508a"/>
<path d="M3594.5 131.7L3600.0 149.7L3634.5 185.6L3655.2 206.3L3678.7 231.1L3696.6 256.0L3710.4 279.4L3721.5 305.7L3729.8 325.0L3743.6 323.6L3738.0 315.3L3727.0 289.1L3714.6 264.2L3704.9 250.4L3688.3 229.7L3666.3 200.7L3641.4 169.0L3624.8 148.3L3613.8 131.7z" fill="#0d6dad"/>
<circle cx="3206" cy="587" r="587.6" fill="#0a5692"/>
<path d="M3591.7 167.6L3617.9 180.0L3622.1 177.3L3627.6 181.4L3632.4 186.2L3634.5 185.6L3648.3 200.7L3660.7 218.0L3662.1 228.3L3664.9 239.4L3662.8 250.4L3664.9 257.3L3671.1 267.7L3666.3 264.2L3660.7 259.4L3653.1 261.5L3645.6 269.8L3642.1 278.0L3644.2 286.3L3648.3 296.0L3655.2 303.6L3660.7 304.3L3662.8 296.0L3664.9 287.0L3667.6 291.8L3670.4 300.1L3677.3 307.7L3682.8 312.6L3688.3 314.6L3693.9 309.8L3695.3 301.5L3699.4 294.6L3709.1 290.5L3718.7 305.7L3731.1 325.0L3724.2 341.5L3695.3 341.5L3695.3 319.5L3692.5 315.3L3682.8 316.0L3677.3 314.2L3669.0 311.2L3658.0 311.2L3645.6 315.6L3638.7 312.6L3627.6 305.7L3613.8 293.5L3608.3 289.1L3591.7 289.1z" fill="#5a9f6c"/>
<path d="M3620.7 200.7L3625.5 202.8L3629.7 207.6L3634.5 209.0L3641.4 207.0L3644.2 209.7L3641.4 214.5L3637.3 215.2L3638.0 222.8L3636.2 226.3L3633.1 221.4L3632.0 214.5L3627.6 211.8L3623.5 214.5L3620.7 213.2L3622.8 207.6z" fill="#0a5692"/>
<path d="M3645.6 211.8L3648.3 209.0L3651.4 209.7L3648.3 217.3L3646.2 222.8L3644.5 220.8z" fill="#0a5692"/>
<path d="M3659.4 221.4L3662.1 222.8L3662.8 228.3L3660.7 227.0z" fill="#0a5692"/>
<path d="M3608.3 288.4L3613.8 289.8L3629.7 307.7L3628.3 309.1L3615.2 297.4z" fill="#0a5692"/>
<path d="M3602 152.9A587.6 587.6 0 0 1 3750 364.9" fill="none" stroke="#e8f2fa" stroke-width="1.1"/>
<path d="M3562.8 142.9L3568.2 137.5L3577.2 132.1L3575.4 128.5L3568.2 125.4L3561.9 133.5z" fill="#5a9f6c"/>
<circle cx="3636.8" cy="144.1" r="23.6" fill="#eceef2"/>
<path d="M3624.2 127.0L3632.5 123.1L3643.5 123.7L3651.8 128.7L3653.4 134.2L3649.0 133.6L3646.8 138.6L3650.1 143.0L3647.9 149.6L3643.5 154.0L3638.0 153.5L3636.9 147.4L3632.5 144.1L3626.9 148.5L3622.5 145.2L3621.4 138.6L3624.7 134.2z" fill="#b9bec8"/>
<path d="M3630.2 127.5L3633.6 126.4L3634.7 129.8L3631.9 132.5L3629.1 130.9z" fill="#eceef2"/>
<path d="M3638.5 137.5L3642.9 135.8L3644.6 139.7L3641.3 141.9z" fill="#eceef2"/>
<clipPath id="sn"><circle cx="3735.8" cy="280.7" r="23.0"/></clipPath>
<circle cx="3735.8" cy="280.7" r="23.0" fill="#fcd99b"/>
<path d="M3707.7 250.4L3721.5 260.1L3724.2 272.5L3729.1 289.1L3736.0 307.0L3707.7 309.8z" fill="#c9cdd6" clip-path="url(#sn)"/>
<path d="M3693.6 106.7L3695.136 114.764L3703.2 116.3L3695.136 117.836L3693.6 125.89999999999999L3692.064 117.836L3684.0 116.3L3692.064 114.764z" fill="#fff3d6"/>
<circle cx="3693.6" cy="116.3" r="2.1" fill="#fbc85e"/>
<path d="M3680.0 121.39999999999999L3680.992 126.60799999999999L3686.2 127.6L3680.992 128.59199999999998L3680.0 133.79999999999998L3679.008 128.59199999999998L3673.8 127.6L3679.008 126.60799999999999z" fill="#fff"/>
<path d="M3703.6 127.0L3704.304 130.696L3708.0 131.4L3704.304 132.104L3703.6 135.8L3702.8959999999997 132.104L3699.2 131.4L3702.8959999999997 130.696z" fill="#fff"/>
<path d="M3715.5 191.0L3655.2 158.6" stroke="#e8f2fa" stroke-width="1.0"/>
<path d="M3715.5 191.0L3645.6 166.9" stroke="#e8f2fa" stroke-width="1.0"/>
<path d="M3715.5 191.0L3669.7 226.3" stroke="#e8f2fa" stroke-width="1.0"/>
<path d="M3715.5 191.0L3675.2 233.2" stroke="#e8f2fa" stroke-width="1.0"/>
<path d="M3716.7 193.0L3723.6 258.7" stroke="#e8f2fa" stroke-width="1.0"/>
<path d="M3716.7 193.0L3733.9 257.3" stroke="#e8f2fa" stroke-width="1.0"/>
<path d="M3721.9 147.5L3722.8 148.4L3697.3 174.3L3696.5 173.5z" fill="#d6d2cd"/>
<path d="M3723.1 148.6L3723.9 149.5L3698.4 175.4L3697.6 174.6z" fill="#d6d2cd"/>
<path d="M3724.2 149.7L3725.1 150.6L3699.5 176.5L3698.7 175.7z" fill="#d6d2cd"/>
<path d="M3725.4 150.8L3726.3 151.7L3700.6 177.6L3699.8 176.8z" fill="#d6d2cd"/>
<path d="M3726.6 152.0L3727.5 152.8L3701.7 178.7L3700.9 177.9z" fill="#d6d2cd"/>
<path d="M3727.8 153.1L3728.6 153.9L3702.8 179.8L3702.0 179.0z" fill="#d6d2cd"/>
<path d="M3728.9 154.2L3729.8 155.0L3703.9 180.9L3703.1 180.1z" fill="#d6d2cd"/>
<path d="M3730.1 155.3L3731.0 156.1L3705.0 182.0L3704.2 181.2z" fill="#d6d2cd"/>
<path d="M3750.6 176.8L3751.5 177.6L3726.1 203.6L3725.2 202.7z" fill="#d6d2cd"/>
<path d="M3751.9 177.8L3752.8 178.6L3727.3 204.7L3726.4 203.9z" fill="#d6d2cd"/>
<path d="M3753.1 178.9L3754.0 179.6L3728.4 205.8L3727.6 205.0z" fill="#d6d2cd"/>
<path d="M3754.3 179.9L3755.3 180.7L3729.6 206.9L3728.7 206.1z" fill="#d6d2cd"/>
<path d="M3755.6 180.9L3756.5 181.7L3730.8 208.0L3729.9 207.2z" fill="#d6d2cd"/>
<path d="M3756.8 182.0L3757.8 182.7L3732.0 209.1L3731.1 208.3z" fill="#d6d2cd"/>
<path d="M3758.1 183.0L3759.0 183.8L3733.1 210.2L3732.2 209.4z" fill="#d6d2cd"/>
<path d="M3759.3 184.0L3760.2 184.8L3734.3 211.3L3733.4 210.5z" fill="#d6d2cd"/>
<path d="M3710.2 160.7L3747.2 197.7" fill="none" stroke="#d6d2cd" stroke-width="1.6"/>
<path d="M3727.3 171.7L3735.0 178.3L3730.6 182.8" fill="none" stroke="#d6d2cd" stroke-width="1.4"/>
<path d="M3720.7 178.3L3713.5 185.0L3722.9 193.8" fill="none" stroke="#d6d2cd" stroke-width="1.4"/>
<path d="M3726.2 181.7L3716.3 191.0" fill="none" stroke="#d6d2cd" stroke-width="1.4"/>
<path d="M3731.7 183.9L3725.1 191.6" fill="none" stroke="#d6d2cd" stroke-width="1.4"/>
<path d="M3718.5 183.9L3727.3 192.1" fill="none" stroke="#d6d2cd" stroke-width="1.2"/>
</g>
<path d="M3542.2 154.1L3535.9 162.2L3526.9 167.6L3521.5 173.8L3517.9 188.2L3515.3 205.2L3510.8 220.5L3502.7 236.6L3501.8 244.3L3509.9 240.2L3523.3 229.5L3534.1 215.1L3539.5 200.7L3543.1 193.6L3546.7 182.8L3544.9 164.9z" fill="#d94a3e"/>
<path d="M3526.9 173.8L3522.4 188.2L3520.6 205.2L3516.1 221.4L3504.5 240.7L3511.7 236.6L3524.2 225.9L3533.2 211.5L3538.1 199.0L3534.1 193.6L3529.6 186.4L3528.7 179.2z" fill="#8f201a"/>
<path d="M3521.5 173.8L3517.9 188.2L3515.3 205.2L3510.8 220.5L3502.7 236.6L3501.8 244.3L3505.6 239.3L3513.5 221.4L3517.9 205.2L3520.3 188.2L3524.4 175.6z" fill="#ea6552"/>
<path d="M3542.2 154.1L3550.2 149.6L3557.4 148.3L3564.6 149.6L3571.8 157.7L3579.0 171.1L3580.7 181.0L3584.3 188.2L3589.7 190.9L3596.9 188.2L3601.4 182.8L3607.7 191.8L3608.7 200.7L3606.9 209.7L3606.3 251.0L3538.1 251.0L3541.3 236.6L3546.7 223.2L3553.8 211.5L3555.6 206.1L3550.2 197.2L3548.4 190.0L3546.7 182.8L3544.9 164.9z" fill="#d94a3e"/>
<path d="M3532.0 238.9L3532.0 273.1L3556.3 317.3L3589.4 339.4L3607.5 339.4L3604.8 284.2L3603.7 238.9z" fill="#d94a3e" clip-path="url(#lg)"/>
<path d="M3541.9 246.6L3547.4 276.4L3551.8 276.4L3547.4 244.4z" fill="#8f201a" clip-path="url(#lg)"/>
<path d="M3556.3 240.0L3560.7 286.4L3567.3 301.8L3565.1 273.1z" fill="#8f201a" clip-path="url(#lg)"/>
<path d="M3573.9 240.0L3578.3 306.3L3585.0 317.3L3581.7 262.1z" fill="#8f201a" clip-path="url(#lg)"/>
<path d="M3589.4 251.0L3592.7 317.3L3600.4 328.3L3596.0 273.1z" fill="#8f201a" clip-path="url(#lg)"/>
<path d="M3551.8 240.0L3556.3 282.0L3560.7 286.4L3556.3 240.0z" fill="#ea6552" clip-path="url(#lg)"/>
<path d="M3567.3 240.0L3571.7 295.2L3576.1 301.8L3572.8 240.0z" fill="#ea6552" clip-path="url(#lg)"/>
<path d="M3585.0 240.0L3587.2 306.3L3591.6 315.1L3589.4 240.0z" fill="#ea6552" clip-path="url(#lg)"/>
<path d="M3600.4 240.0L3602.1 295.2L3606.5 328.3L3603.7 240.0z" fill="#ea6552" clip-path="url(#lg)"/>
<path d="M3548.4 157.7L3555.6 153.2L3562.8 155.9L3558.3 159.5L3553.8 166.7L3557.4 173.8L3562.8 177.4L3568.2 182.8L3573.6 186.4L3577.6 191.3L3570.0 191.8L3562.8 186.8L3557.4 182.8L3552.0 173.8L3548.9 164.9z" fill="#8f201a"/>
<path d="M3562.8 159.5L3570.9 168.4L3577.2 181.0L3579.4 188.6L3573.6 184.6L3568.2 177.4L3563.3 171.1z" fill="#ea6552"/>
<path d="M3550.2 191.8L3557.4 190.9L3568.2 196.3L3577.2 197.2L3586.1 194.5L3596.9 193.6L3605.9 196.3L3607.7 203.4L3603.2 209.7L3589.7 211.5L3577.2 207.9L3566.4 204.3L3557.4 200.7z" fill="#ea6552"/>
<path d="M3562.8 197.2L3568.2 200.7L3571.8 207.9L3568.2 208.8L3564.1 203.4z" fill="#b5352b"/>
<path d="M3580.7 200.7L3586.1 199.0L3589.7 206.1L3586.1 210.6L3582.5 207.0z" fill="#b5352b"/>
<path d="M3596.9 199.0L3602.3 198.1L3605.0 204.3L3601.4 209.7L3597.8 205.2z" fill="#b5352b"/>
<path d="M3548.9 190.9L3553.8 199.0L3557.4 206.1L3555.2 211.5L3551.6 203.4L3548.9 197.2z" fill="#8f201a"/>
<path d="M3541.3 236.6L3546.7 223.2L3553.8 213.3L3559.2 216.9L3555.6 232.1L3550.2 251.0L3538.1 251.0z" fill="#8f201a"/>
<path d="M3561.9 218.7L3568.2 219.6L3569.1 251.0L3562.8 251.0z" fill="#ea6552"/>
<path d="M3570.9 220.5L3575.4 221.4L3576.3 251.0L3571.8 251.0z" fill="#8f201a"/>
<path d="M3579.0 222.3L3586.1 229.5L3588.8 251.0L3580.7 251.0z" fill="#ea6552"/>
<path d="M3590.6 233.0L3595.1 233.9L3596.9 251.0L3592.4 251.0z" fill="#8f201a"/>
<path d="M3599.6 233.0L3605.9 227.7L3606.3 251.0L3601.4 251.0z" fill="#ea6552"/>
<path d="M3553.8 207.5L3568.2 211.5L3586.1 215.5L3586.1 221.8L3568.2 217.8L3552.9 213.3z" fill="#7d3417"/>
<path d="M3555.6 210.2L3585.2 218.2" fill="none" stroke="#c98a3c" stroke-width="1.0" stroke-dasharray="1.2 2"/>
<path d="M3585.7 217.8L3593.3 213.1L3602.5 215.8L3603.4 226.8L3596.2 232.3L3586.8 228.7z" fill="#c8803a"/>
<path d="M3588.4 219.1L3593.8 215.8L3600.0 217.8L3600.7 225.7L3595.5 229.6L3589.0 227.1z" fill="#6b1c10"/>
<text x="3591.30" y="225.0" font-family="Liberation Serif" font-size="9.50" font-weight="bold" fill="#d9974a" textLength="4.44" lengthAdjust="spacingAndGlyphs" font-style="italic">S</text>
<path d="M3600.5 165.6L3617.1 171.1L3612.6 178.3L3607.7 190.4L3602.3 186.8z" fill="#7a1c14"/>
<path d="M3608.7 170.2L3616.6 171.9L3611.3 181.9L3606.8 178.8z" fill="#c0703c"/>
<path d="M3607.7 181.9L3615.7 178.3L3616.8 186.4L3613.2 192.0L3607.7 191.1z" fill="#e4ad72"/>
<path d="M3561.9 143.5L3568.2 137.9L3577.2 132.6L3589.7 128.5L3598.7 128.1L3605.9 132.6L3607.5 139.0L3602.3 135.3L3595.1 133.5L3588.4 136.1L3584.3 140.6L3579.0 140.6L3578.1 146.0L3581.6 150.5L3585.2 155.9L3590.6 157.7L3599.6 155.9L3599.1 162.2L3599.6 170.2L3600.7 177.4L3597.8 184.6L3593.3 189.3L3587.9 190.2L3582.5 185.5L3579.8 178.3L3578.1 170.2L3573.6 162.2L3568.2 155.0L3563.7 149.6z" fill="#f5f5f5"/>
<path d="M3588.4 136.1L3595.1 133.5L3602.3 135.3L3606.8 140.8L3605.1 146.9L3602.5 150.7L3599.8 155.9L3590.6 157.7L3585.2 155.9L3581.6 150.5L3578.1 146.0L3579.0 140.6L3584.3 140.6z" fill="#e4ad72"/>
<path d="M3579.0 140.6L3584.3 140.6L3588.4 136.1L3590.6 137.9L3587.5 143.3L3586.1 149.6L3588.8 155.0L3585.2 155.9L3581.6 150.5L3578.1 146.0z" fill="#bd844a"/>
<path d="M3588.4 136.1L3593.3 134.4L3592.4 137.9L3589.7 139.3z" fill="#f5f5f5"/>
<path d="M3589.7 156.3L3596.9 155.2L3599.8 158.4L3598.0 162.2L3593.3 159.5z" fill="#f5f5f5"/>
<path d="M3592.9 145.8L3599.1 148.0" fill="none" stroke="#5a3018" stroke-width="1.1"/>
<path d="M3594.2 159.5L3598.2 159.9" fill="none" stroke="#7a5030" stroke-width="0.9"/>
<path d="M3534.4 122.7L3542.2 174.7" fill="none" stroke="#b5682a" stroke-width="5.0"/>
<path d="M3532.8 122.7L3540.6 174.7" fill="none" stroke="#7a3a14" stroke-width="1.4"/>
<path d="M3535.9 122.7L3543.8 174.7" fill="none" stroke="#dfa04c" stroke-width="1.0"/>
<path d="M3543.8 194.5L3553.1 250.0L3554.6 262.1L3560.7 272.0L3562.9 293.0" fill="none" stroke="#b5682a" stroke-width="4.8" stroke-linejoin="round"/>
<path d="M3545.3 194.5L3554.7 250.0L3556.0 261.5L3562.3 272.0L3564.2 293.0" fill="none" stroke="#e7a84f" stroke-width="1.3" stroke-linejoin="round"/>
<circle cx="3532.8" cy="113.7" r="10.8" fill="#eef1f6"/>
<circle cx="3533.6" cy="113.0" r="9.2" fill="#c7ccd6"/>
<path d="M3529.6 184.6L3531.4 177.4L3538.6 173.4L3544.9 174.7L3548.4 181.0L3547.7 190.0L3543.2 194.6L3537.7 193.7L3532.3 190.2z" fill="#e4ad72"/>
<path d="M3535.9 181.0L3546.7 179.7" fill="none" stroke="#bd844a" stroke-width="1.1"/>
<path d="M3535.0 186.4L3547.1 185.0" fill="none" stroke="#bd844a" stroke-width="1.1"/>
<path d="M3536.8 191.3L3544.9 190.4" fill="none" stroke="#bd844a" stroke-width="1.0"/>
<path id="arc" d="M3511.09 259.25A155.8 155.8 0 0 0 3816.92 237.06" fill="none"/>
<text font-family="Liberation Sans" font-weight="bold" font-size="14.4" fill="#eef4fb" textLength="433.7" lengthAdjust="spacing"><textPath href="#arc" textLength="433.7" lengthAdjust="spacing">BALL • NASA LANGLEY RESEARCH CENTER • TAS-I • ESA</textPath></text>
</g>
</svg></body></html>
